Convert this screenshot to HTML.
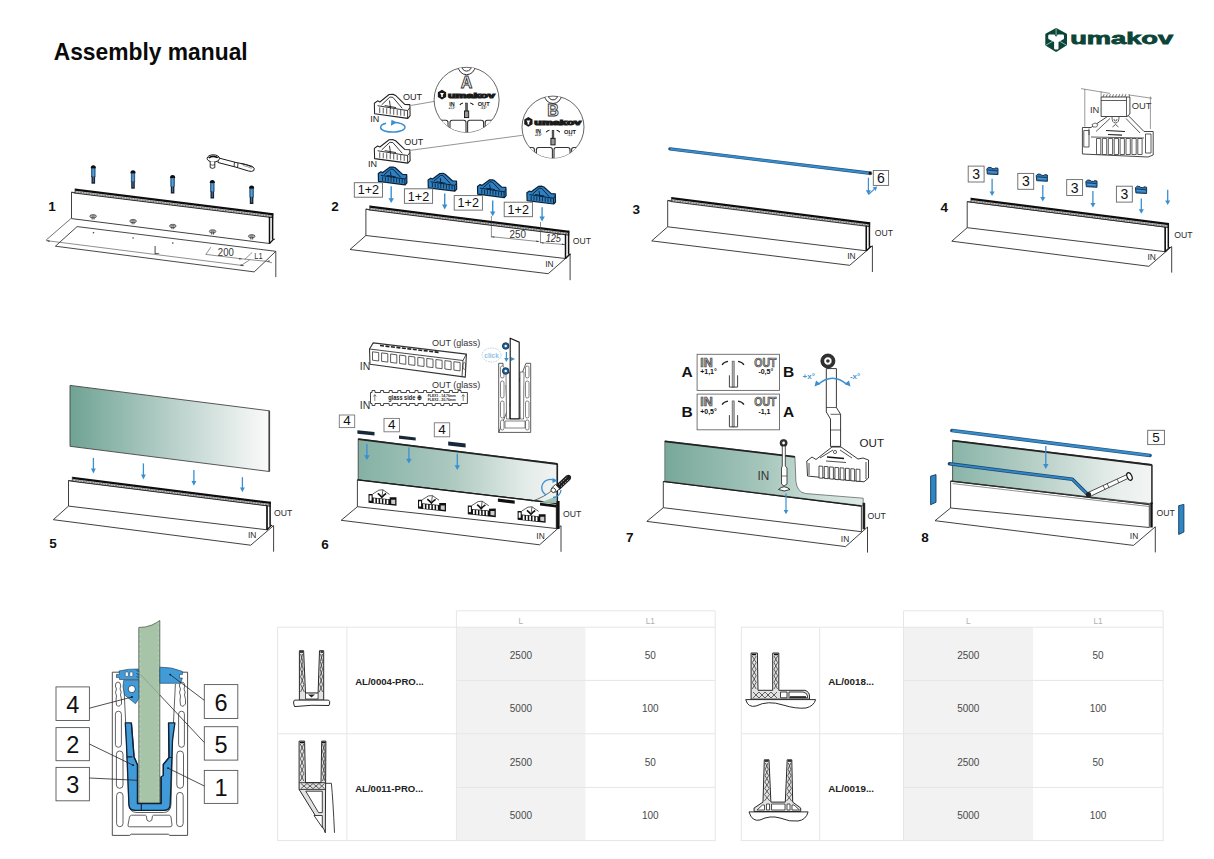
<!DOCTYPE html>
<html><head><meta charset="utf-8"><title>Assembly manual</title>
<style>
html,body{margin:0;padding:0;background:#fff;}
body{width:1214px;height:859px;overflow:hidden;position:relative;font-family:"Liberation Sans",sans-serif;}
svg{position:absolute;left:0;top:0;}
svg text{font-family:"Liberation Sans",sans-serif;}
</style></head><body>
<svg width="1214" height="859" viewBox="0 0 1214 859">
<defs>
<linearGradient id="glass" x1="0" y1="0" x2="1" y2="0">
<stop offset="0" stop-color="#6fa394"/><stop offset="0.5" stop-color="#b6cfc8"/><stop offset="0.9" stop-color="#eef2f1"/><stop offset="1" stop-color="#fafafa"/>
</linearGradient>
</defs>

<text x="53.7" y="60" font-size="23.2" font-weight="bold" fill="#0a0a0a" textLength="194" lengthAdjust="spacingAndGlyphs">Assembly manual</text>
<path d="M1056.1,28.1 Q1056.6,28.1 1057.1,28.4 L1066.4,33.4 Q1067,33.8 1067,34.4 L1067,44.6 Q1067,45.2 1066.4,45.6 L1057.1,51.4 Q1056.1,51.9 1055.1,51.4 L1045.9,45.8 Q1045.3,45.4 1045.3,44.8 L1045.3,34.4 Q1045.3,33.8 1045.9,33.4 L1055.1,28.4 Q1055.6,28.1 1056.1,28.1 Z" fill="#0c4538"/>
<path d="M1048.2,36 Q1048.2,34.6 1049.6,34.6 L1054.6,34.6 L1055.3,36.3 L1056.9,36.3 L1057.6,34.6 L1062.6,34.6 Q1064,34.6 1064,36 L1064,38 Q1064,39 1063,39.5 L1058.5,42 L1058.5,48.3 Q1058.5,49.5 1057.3,49.5 L1055.3,49.5 Q1054.1,49.5 1054.1,48.3 L1054.1,42 L1049.3,39.5 Q1048.2,39 1048.2,38 Z" fill="#fff"/>
<path d="M1056.1,28.6 L1056.1,35.6 M1045.8,45.2 L1052.6,41.3 M1066.5,45.2 L1059.8,41.3" stroke="#86cdb7" stroke-width="0.9"/>

<text x="1070.2" y="44.4" font-size="17" font-weight="bold" fill="#0c4538" textLength="103" lengthAdjust="spacingAndGlyphs" style="font-weight:900" stroke="#0c4538" stroke-width="0.8">umakov</text>
<text x="48.3" y="210.9" font-size="13.5" font-weight="bold" fill="#111">1</text>
<text x="331.3" y="211.3" font-size="13.5" font-weight="bold" fill="#111">2</text>
<text x="632.4" y="213.8" font-size="13.5" font-weight="bold" fill="#111">3</text>
<text x="940.5" y="212.4" font-size="13.5" font-weight="bold" fill="#111">4</text>
<text x="49.3" y="547.5" font-size="13.5" font-weight="bold" fill="#111">5</text>
<text x="321.2" y="548.8" font-size="13.5" font-weight="bold" fill="#111">6</text>
<text x="625.9" y="542.2" font-size="13.5" font-weight="bold" fill="#111">7</text>
<text x="921.2" y="541.6" font-size="13.5" font-weight="bold" fill="#111">8</text>
<path d="M71.5,192.2 L269.5,216.8 L269.5,243.5 L71.5,218.6 Z" fill="#fff" stroke="#2b2b2b" stroke-width="0.9"/>
<path d="M75,190.7 L273.3,215.33727272727273 L273.3,217.53727272727275 L75,192.9 Z" fill="#c4c4c4" stroke="none"/>
<line x1="75" y1="191.79999999999998" x2="273.3" y2="216.43727272727273" stroke="#666" stroke-width="0.9" stroke-dasharray="1.5 1.2"/>
<path d="M75,188.6 L273.3,213.23727272727274 L273.3,215.43727272727273 L75,190.79999999999998 Z" fill="#0d0d0d" stroke="none"/>
<line x1="75" y1="193.1" x2="273.3" y2="217.73727272727274" stroke="#222" stroke-width="0.9"/>
<line x1="75" y1="188.6" x2="75" y2="193.4" stroke="#333" stroke-width="0.7"/>
<line x1="71.5" y1="192.2" x2="75" y2="193.2" stroke="#2b2b2b" stroke-width="0.8"/>
<line x1="272.6" y1="213.23727272727274" x2="272.6" y2="239.5" stroke="#111" stroke-width="1.5"/>
<line x1="269.5" y1="216.8" x2="269.5" y2="243.5" stroke="#111" stroke-width="1.5"/>
<path d="M269.5,243.5 L273.3,239.5 L274.8,239.0" fill="none" stroke="#111" stroke-width="1.2"/>
<path d="M365.9,209.1 L565.5,234.3 L565.5,258.5 L365.9,235.5 Z" fill="#fff" stroke="#2b2b2b" stroke-width="0.9"/>
<path d="M365.9,235.5 L350,249.5 L548.2,273.7 L570.1,254.5" fill="none" stroke="#2b2b2b" stroke-width="0.9"/>
<line x1="570.1" y1="254.5" x2="570.1" y2="280.2" stroke="#2b2b2b" stroke-width="0.9"/>
<path d="M369.7,207.6 L569.3,232.8 L569.3,235.00000000000003 L369.7,209.8 Z" fill="#c4c4c4" stroke="none"/>
<line x1="369.7" y1="208.7" x2="569.3" y2="233.9" stroke="#666" stroke-width="0.9" stroke-dasharray="1.5 1.2"/>
<path d="M369.7,205.5 L569.3,230.70000000000002 L569.3,232.9 L369.7,207.7 Z" fill="#0d0d0d" stroke="none"/>
<line x1="369.7" y1="210.0" x2="569.3" y2="235.20000000000002" stroke="#222" stroke-width="0.9"/>
<line x1="369.7" y1="205.5" x2="369.7" y2="210.3" stroke="#333" stroke-width="0.7"/>
<line x1="365.9" y1="209.1" x2="369.7" y2="210.1" stroke="#2b2b2b" stroke-width="0.8"/>
<line x1="568.5999999999999" y1="230.70000000000002" x2="568.5999999999999" y2="254.5" stroke="#111" stroke-width="1.5"/>
<line x1="565.5" y1="234.3" x2="565.5" y2="258.5" stroke="#111" stroke-width="1.5"/>
<path d="M565.5,258.5 L569.3,254.5 L570.8,254.0" fill="none" stroke="#111" stroke-width="1.2"/>
<path d="M667.7,200.4 L866.3,225.5 L866.3,250.8 L667.7,226.8 Z" fill="#fff" stroke="#2b2b2b" stroke-width="0.9"/>
<path d="M667.7,226.8 L651.7,240.9 L849.7,265.3 L872.4,245.8" fill="none" stroke="#2b2b2b" stroke-width="0.9"/>
<line x1="872.4" y1="245.8" x2="872.4" y2="272" stroke="#2b2b2b" stroke-width="0.9"/>
<path d="M671.4,199.2 L870.0999999999999,224.312638469285 L870.0999999999999,226.512638469285 L671.4,201.4 Z" fill="#c4c4c4" stroke="none"/>
<line x1="671.4" y1="200.29999999999998" x2="870.0999999999999" y2="225.41263846928499" stroke="#666" stroke-width="0.9" stroke-dasharray="1.5 1.2"/>
<path d="M671.4,197.1 L870.0999999999999,222.212638469285 L870.0999999999999,224.41263846928499 L671.4,199.29999999999998 Z" fill="#0d0d0d" stroke="none"/>
<line x1="671.4" y1="201.6" x2="870.0999999999999" y2="226.712638469285" stroke="#222" stroke-width="0.9"/>
<line x1="671.4" y1="197.1" x2="671.4" y2="201.9" stroke="#333" stroke-width="0.7"/>
<line x1="667.7" y1="200.4" x2="671.4" y2="201.7" stroke="#2b2b2b" stroke-width="0.8"/>
<line x1="869.3999999999999" y1="222.212638469285" x2="869.3999999999999" y2="246.8" stroke="#111" stroke-width="1.5"/>
<line x1="866.3" y1="225.5" x2="866.3" y2="250.8" stroke="#111" stroke-width="1.5"/>
<path d="M866.3,250.8 L870.0999999999999,246.8 L871.5999999999999,246.3" fill="none" stroke="#111" stroke-width="1.2"/>
<path d="M967.2,201.6 L1165.2,227 L1165.2,251.7 L967.2,227.7 Z" fill="#fff" stroke="#2b2b2b" stroke-width="0.9"/>
<path d="M967.2,227.7 L951.8,241.2 L1148.9,266.3 L1171.7,246.6" fill="none" stroke="#2b2b2b" stroke-width="0.9"/>
<line x1="1171.7" y1="246.6" x2="1171.7" y2="272.6" stroke="#2b2b2b" stroke-width="0.9"/>
<path d="M970.9,199.79999999999998 L1169.0,225.21282828282827 L1169.0,227.4128282828283 L970.9,202.0 Z" fill="#c4c4c4" stroke="none"/>
<line x1="970.9" y1="200.89999999999998" x2="1169.0" y2="226.31282828282826" stroke="#666" stroke-width="0.9" stroke-dasharray="1.5 1.2"/>
<path d="M970.9,197.7 L1169.0,223.11282828282827 L1169.0,225.31282828282826 L970.9,199.89999999999998 Z" fill="#0d0d0d" stroke="none"/>
<line x1="970.9" y1="202.2" x2="1169.0" y2="227.61282828282827" stroke="#222" stroke-width="0.9"/>
<line x1="970.9" y1="197.7" x2="970.9" y2="202.5" stroke="#333" stroke-width="0.7"/>
<line x1="967.2" y1="201.6" x2="970.9" y2="202.29999999999998" stroke="#2b2b2b" stroke-width="0.8"/>
<line x1="1168.3" y1="223.11282828282827" x2="1168.3" y2="247.7" stroke="#111" stroke-width="1.5"/>
<line x1="1165.2" y1="227" x2="1165.2" y2="251.7" stroke="#111" stroke-width="1.5"/>
<path d="M1165.2,251.7 L1169.0,247.7 L1170.5,247.2" fill="none" stroke="#111" stroke-width="1.2"/>
<path d="M68.5,480.5 L267,505.5 L267,529.8 L68.5,506.1 Z" fill="#fff" stroke="#2b2b2b" stroke-width="0.9"/>
<path d="M68.5,506.1 L53.3,519.7 L250.7,545.2 L273.6,525.6" fill="none" stroke="#2b2b2b" stroke-width="0.9"/>
<line x1="273.6" y1="525.6" x2="273.6" y2="551.7" stroke="#2b2b2b" stroke-width="0.9"/>
<path d="M72.3,478.90000000000003 L270.8,503.90000000000003 L270.8,506.1 L72.3,481.1 Z" fill="#c4c4c4" stroke="none"/>
<line x1="72.3" y1="480.0" x2="270.8" y2="505.0" stroke="#666" stroke-width="0.9" stroke-dasharray="1.5 1.2"/>
<path d="M72.3,476.8 L270.8,501.8 L270.8,504.0 L72.3,479.0 Z" fill="#0d0d0d" stroke="none"/>
<line x1="72.3" y1="481.3" x2="270.8" y2="506.3" stroke="#222" stroke-width="0.9"/>
<line x1="72.3" y1="476.8" x2="72.3" y2="481.6" stroke="#333" stroke-width="0.7"/>
<line x1="68.5" y1="480.5" x2="72.3" y2="481.40000000000003" stroke="#2b2b2b" stroke-width="0.8"/>
<line x1="270.1" y1="501.8" x2="270.1" y2="525.8" stroke="#111" stroke-width="1.5"/>
<line x1="267" y1="505.5" x2="267" y2="529.8" stroke="#111" stroke-width="1.5"/>
<path d="M267,529.8 L270.8,525.8 L272.3,525.3" fill="none" stroke="#111" stroke-width="1.2"/>
<path d="M70,385.4 L269.3,410.8 L269.3,471.5 L70,446.3 Z" fill="url(#glass)" stroke="#444" stroke-width="0.9"/>
<line x1="269.3" y1="410.8" x2="269.3" y2="471.5" stroke="#444" stroke-width="1.6"/>
<line x1="93.4" y1="457.9" x2="93.4" y2="470.9" stroke="#3a8fd0" stroke-width="1.3"/><path d="M91.0,468.59999999999997 L93.4,473.4 L95.80000000000001,468.59999999999997 Z" fill="#3a8fd0"/>
<line x1="143.4" y1="463.4" x2="143.4" y2="476.9" stroke="#3a8fd0" stroke-width="1.3"/><path d="M141.0,474.59999999999997 L143.4,479.4 L145.8,474.59999999999997 Z" fill="#3a8fd0"/>
<line x1="193.9" y1="470" x2="193.9" y2="483.2" stroke="#3a8fd0" stroke-width="1.3"/><path d="M191.5,480.9 L193.9,485.7 L196.3,480.9 Z" fill="#3a8fd0"/>
<line x1="242.4" y1="477.2" x2="242.4" y2="489.8" stroke="#3a8fd0" stroke-width="1.3"/><path d="M240.0,487.5 L242.4,492.3 L244.8,487.5 Z" fill="#3a8fd0"/>
<linearGradient id="g6" gradientUnits="userSpaceOnUse" x1="358" y1="0" x2="557" y2="0"><stop offset="0" stop-color="#84b1a4"/><stop offset="0.45" stop-color="#aac7be"/><stop offset="0.85" stop-color="#e4ece9"/><stop offset="1" stop-color="#f0f3f2"/></linearGradient>
<path d="M358.2,438.9 L557.3,463.7 L557.3,503.3 L358.2,479.8 Z" fill="url(#g6)" stroke="#333" stroke-width="0.8"/>
<line x1="358.2" y1="439.2" x2="557.3" y2="464" stroke="#222" stroke-width="1.8"/>
<line x1="557.3" y1="463.7" x2="557.3" y2="503.3" stroke="#222" stroke-width="1.6"/>
<path d="M357.4,479.8 L556.3,503.3 L556.3,528.5 L357.4,506.7 Z" fill="#fff" stroke="#2b2b2b" stroke-width="0.9"/>
<path d="M357.4,506.7 L341.2,520.3 L539.6,544.8 L561,525.7" fill="none" stroke="#2b2b2b" stroke-width="0.9"/>
<line x1="561" y1="525.7" x2="561" y2="551.8" stroke="#2b2b2b" stroke-width="0.9"/>
<line x1="357.4" y1="479.8" x2="556.3" y2="503.3" stroke="#1a1a1a" stroke-width="1.3"/>
<rect x="556.3" y="501" width="3.3" height="28" fill="#111"/>
<linearGradient id="g7" gradientUnits="userSpaceOnUse" x1="665" y1="0" x2="863" y2="0"><stop offset="0" stop-color="#78a89a"/><stop offset="0.5" stop-color="#a6c6bc"/><stop offset="0.75" stop-color="#c7dcd5"/><stop offset="1" stop-color="#dde9e5"/></linearGradient>
<path d="M664.8,441 L794.9,456.5 L795.9,481.2 Q797,492 805.4,493.5 L863.2,498.2 L863.2,505.8 L664.8,481.2 Z" fill="url(#g7)" stroke="#555" stroke-width="0.7"/>
<line x1="664.8" y1="441.3" x2="794.9" y2="456.8" stroke="#222" stroke-width="1.7"/>
<path d="M663.3,481.5 L861.4,506.1 L861.4,531.7 L663.3,507.7 Z" fill="#fff" stroke="#2b2b2b" stroke-width="0.9"/>
<path d="M663.3,507.7 L646.8,521.4 L845.6,546.6 L867.5,527" fill="none" stroke="#2b2b2b" stroke-width="0.9"/>
<line x1="867.5" y1="527" x2="867.5" y2="552.6" stroke="#2b2b2b" stroke-width="0.9"/>
<line x1="663.3" y1="481.5" x2="861.4" y2="506.1" stroke="#1a1a1a" stroke-width="1.2"/>
<rect x="862.6" y="502.8" width="2.6" height="26.5" fill="#222"/>
<linearGradient id="g8" gradientUnits="userSpaceOnUse" x1="952" y1="0" x2="1152" y2="0"><stop offset="0" stop-color="#89b4a7"/><stop offset="0.5" stop-color="#c0d5ce"/><stop offset="0.85" stop-color="#eaf0ee"/><stop offset="1" stop-color="#f2f4f3"/></linearGradient>
<path d="M952.6,440.4 L1151.9,464.7 L1151.9,504 L952.6,481.1 Z" fill="url(#g8)" stroke="#333" stroke-width="0.8"/>
<line x1="952.6" y1="440.7" x2="1151.9" y2="465" stroke="#222" stroke-width="1.8"/>
<line x1="1151.9" y1="464.7" x2="1151.9" y2="504" stroke="#333" stroke-width="1.4"/>
<path d="M950.6,481.1 L1149.3,504.5 L1149.3,527.5 L950.6,508 Z" fill="#fff" stroke="#2b2b2b" stroke-width="0.9"/>
<path d="M950.6,508 L935,520.7 L1133.5,545.4 L1155.3,526.8" fill="none" stroke="#2b2b2b" stroke-width="0.9"/>
<line x1="1155.3" y1="526.8" x2="1155.3" y2="552.4" stroke="#2b2b2b" stroke-width="0.9"/>
<line x1="950.6" y1="481.1" x2="1149.3" y2="504.5" stroke="#2a2a2a" stroke-width="1.1"/>
<line x1="952.6" y1="483.6" x2="1149.9" y2="506.6" stroke="#666" stroke-width="0.7"/>
<rect x="1150.3" y="502.5" width="2.4" height="25" fill="#111"/>
<text x="572.8" y="244.4" font-size="9.5" fill="#2a2a2a" textLength="18.3" lengthAdjust="spacingAndGlyphs">OUT</text>
<text x="545.2" y="267" font-size="9.5" fill="#2a2a2a" textLength="8.4" lengthAdjust="spacingAndGlyphs">IN</text>
<text x="874.8" y="236.1" font-size="9.5" fill="#2a2a2a" textLength="18.3" lengthAdjust="spacingAndGlyphs">OUT</text>
<text x="847.2" y="258.7" font-size="9.5" fill="#2a2a2a" textLength="8.4" lengthAdjust="spacingAndGlyphs">IN</text>
<text x="1174.3" y="237.5" font-size="9.5" fill="#2a2a2a" textLength="18.3" lengthAdjust="spacingAndGlyphs">OUT</text>
<text x="1147.4" y="259.5" font-size="9.5" fill="#2a2a2a" textLength="8.4" lengthAdjust="spacingAndGlyphs">IN</text>
<text x="274" y="515.7" font-size="9.5" fill="#2a2a2a" textLength="18.3" lengthAdjust="spacingAndGlyphs">OUT</text>
<text x="248" y="538.4" font-size="9.5" fill="#2a2a2a" textLength="8.4" lengthAdjust="spacingAndGlyphs">IN</text>
<text x="562.9" y="517" font-size="9.5" fill="#2a2a2a" textLength="18.3" lengthAdjust="spacingAndGlyphs">OUT</text>
<text x="536.3" y="538.5" font-size="9.5" fill="#2a2a2a" textLength="8.4" lengthAdjust="spacingAndGlyphs">IN</text>
<text x="867.6" y="518.7" font-size="9.5" fill="#2a2a2a" textLength="18.3" lengthAdjust="spacingAndGlyphs">OUT</text>
<text x="840.8" y="541.5" font-size="9.5" fill="#2a2a2a" textLength="8.4" lengthAdjust="spacingAndGlyphs">IN</text>
<text x="1156.5" y="516.3" font-size="9.5" fill="#2a2a2a" textLength="18.3" lengthAdjust="spacingAndGlyphs">OUT</text>
<text x="1129.8" y="539" font-size="9.5" fill="#2a2a2a" textLength="8.4" lengthAdjust="spacingAndGlyphs">IN</text>
<rect x="456.4" y="627.2" width="129.0" height="213.39999999999998" fill="#f2f2f2"/>
<path d="M456.4,627.2 L456.4,610.8 L715.2,610.8 L715.2,627.2" fill="none" stroke="#e6e6e6" stroke-width="1"/>
<rect x="277.6" y="627.2" width="437.6" height="213.39999999999998" fill="none" stroke="#e6e6e6" stroke-width="1"/>
<line x1="456.4" y1="680.4" x2="715.2" y2="680.4" stroke="#e6e6e6" stroke-width="1"/>
<line x1="456.4" y1="787.4" x2="715.2" y2="787.4" stroke="#e6e6e6" stroke-width="1"/>
<line x1="277.6" y1="733.8" x2="715.2" y2="733.8" stroke="#e6e6e6" stroke-width="1"/>
<line x1="346.9" y1="627.2" x2="346.9" y2="840.6" stroke="#e6e6e6" stroke-width="1"/>
<line x1="456.4" y1="627.2" x2="456.4" y2="840.6" stroke="#e6e6e6" stroke-width="1"/>
<text x="520.9" y="623.7" font-size="8.3" fill="#b0b0b0" text-anchor="middle">L</text>
<text x="650.3" y="623.7" font-size="8.3" fill="#b0b0b0" text-anchor="middle">L1</text>
<text x="520.9" y="659.2" font-size="10" fill="#4a4a4a" text-anchor="middle">2500</text>
<text x="650.3" y="659.2" font-size="10" fill="#4a4a4a" text-anchor="middle">50</text>
<text x="520.9" y="712.4" font-size="10" fill="#4a4a4a" text-anchor="middle">5000</text>
<text x="650.3" y="712.4" font-size="10" fill="#4a4a4a" text-anchor="middle">100</text>
<text x="520.9" y="765.8" font-size="10" fill="#4a4a4a" text-anchor="middle">2500</text>
<text x="650.3" y="765.8" font-size="10" fill="#4a4a4a" text-anchor="middle">50</text>
<text x="520.9" y="818.8" font-size="10" fill="#4a4a4a" text-anchor="middle">5000</text>
<text x="650.3" y="818.8" font-size="10" fill="#4a4a4a" text-anchor="middle">100</text>
<rect x="903.5" y="627.2" width="129.5999999999999" height="213.39999999999998" fill="#f2f2f2"/>
<path d="M903.5,627.2 L903.5,610.8 L1163.1,610.8 L1163.1,627.2" fill="none" stroke="#e6e6e6" stroke-width="1"/>
<rect x="741.3" y="627.2" width="421.79999999999995" height="213.39999999999998" fill="none" stroke="#e6e6e6" stroke-width="1"/>
<line x1="903.5" y1="680.4" x2="1163.1" y2="680.4" stroke="#e6e6e6" stroke-width="1"/>
<line x1="903.5" y1="787.4" x2="1163.1" y2="787.4" stroke="#e6e6e6" stroke-width="1"/>
<line x1="741.3" y1="733.8" x2="1163.1" y2="733.8" stroke="#e6e6e6" stroke-width="1"/>
<line x1="819.7" y1="627.2" x2="819.7" y2="840.6" stroke="#e6e6e6" stroke-width="1"/>
<line x1="903.5" y1="627.2" x2="903.5" y2="840.6" stroke="#e6e6e6" stroke-width="1"/>
<text x="968.3" y="623.7" font-size="8.3" fill="#b0b0b0" text-anchor="middle">L</text>
<text x="1098.1" y="623.7" font-size="8.3" fill="#b0b0b0" text-anchor="middle">L1</text>
<text x="968.3" y="659.2" font-size="10" fill="#4a4a4a" text-anchor="middle">2500</text>
<text x="1098.1" y="659.2" font-size="10" fill="#4a4a4a" text-anchor="middle">50</text>
<text x="968.3" y="712.4" font-size="10" fill="#4a4a4a" text-anchor="middle">5000</text>
<text x="1098.1" y="712.4" font-size="10" fill="#4a4a4a" text-anchor="middle">100</text>
<text x="968.3" y="765.8" font-size="10" fill="#4a4a4a" text-anchor="middle">2500</text>
<text x="1098.1" y="765.8" font-size="10" fill="#4a4a4a" text-anchor="middle">50</text>
<text x="968.3" y="818.8" font-size="10" fill="#4a4a4a" text-anchor="middle">5000</text>
<text x="1098.1" y="818.8" font-size="10" fill="#4a4a4a" text-anchor="middle">100</text>
<text x="355.2" y="685" font-size="8.8" font-weight="bold" fill="#222" textLength="68.6" lengthAdjust="spacingAndGlyphs">AL/0004-PRO...</text>
<text x="355.2" y="791.8" font-size="8.8" font-weight="bold" fill="#222" textLength="68.1" lengthAdjust="spacingAndGlyphs">AL/0011-PRO...</text>
<text x="828.2" y="685" font-size="8.8" font-weight="bold" fill="#222" textLength="45.9" lengthAdjust="spacingAndGlyphs">AL/0018...</text>
<text x="828.2" y="791.8" font-size="8.8" font-weight="bold" fill="#222" textLength="45.9" lengthAdjust="spacingAndGlyphs">AL/0019...</text>
<path d="M112.3,672.2 L120,672.2 L120,675 L112.3,675 Z" fill="none"/>
<path d="M112.3,672.2 L112.3,835.4 L129.7,835.4 L131.2,834.2 L168.3,834.2 L169.8,835.4 L187.6,835.4 L187.6,672.2 L182,672.2" fill="#fff" stroke="#3a3a3a" stroke-width="0.9"/>
<line x1="112.3" y1="672.2" x2="120" y2="672.2" stroke="#3a3a3a" stroke-width="0.9"/>
<path d="M123.8,684 L126.5,740 L128.9,804.6 Q129.5,812.5 137,812.5 L163.5,812.5 Q170.6,812.5 171,804.6 L172.6,740 L175.4,684" fill="none" stroke="#3a3a3a" stroke-width="0.8"/>
<rect x="115.4" y="711.2" width="6.0" height="36.09999999999991" rx="3.0" ry="3.0" fill="#fff" stroke="#3a3a3a" stroke-width="0.8"/>
<rect x="116.4" y="751" width="6.599999999999994" height="37.299999999999955" rx="3.299999999999997" ry="3.299999999999997" fill="#fff" stroke="#3a3a3a" stroke-width="0.8"/>
<rect x="116.6" y="792.4" width="6.400000000000006" height="34.30000000000007" rx="3.200000000000003" ry="3.200000000000003" fill="#fff" stroke="#3a3a3a" stroke-width="0.8"/>
<rect x="178.6" y="711.2" width="5.800000000000011" height="36.09999999999991" rx="2.9000000000000057" ry="2.9000000000000057" fill="#fff" stroke="#3a3a3a" stroke-width="0.8"/>
<rect x="176.8" y="751" width="6.699999999999989" height="37.299999999999955" rx="3.3499999999999943" ry="3.3499999999999943" fill="#fff" stroke="#3a3a3a" stroke-width="0.8"/>
<rect x="176.6" y="792.4" width="6.599999999999994" height="34.30000000000007" rx="3.299999999999997" ry="3.299999999999997" fill="#fff" stroke="#3a3a3a" stroke-width="0.8"/>
<path d="M116,683 Q118,681 120,683 Q121.5,686 120,689 Q122,692 120.5,695 Q122,699 121.5,704 Q118.5,708 116.5,705 Q115.5,700 116.5,696 Q114.5,692 116.5,689 Q114.5,686 116,683 Z" fill="#fff" stroke="#3a3a3a" stroke-width="0.8"/>
<path d="M180,683 Q182,681 184,683 Q185.5,686 184,689 Q186,692 184.5,695 Q186,699 185.5,704 Q182.5,708 180.5,705 Q179.5,700 180.5,696 Q178.5,692 180.5,689 Q178.5,686 180,683 Z" fill="#fff" stroke="#3a3a3a" stroke-width="0.8"/>
<path d="M131.5,815.2 L145.5,815.2 Q146.5,815.5 146.5,817 Q146,821 149.4,821.5 Q152.8,821 152.3,817 Q152.3,815.5 153.3,815.2 L169.3,815.2 Q170.5,815.5 171,817 L172,825 Q172,826.8 170,826.8 L129.5,826.8 Q127.6,826.8 128,825 L129.5,817 Q130,815.5 131.5,815.2 Z" fill="#fff" stroke="#3a3a3a" stroke-width="0.8"/>
<path d="M125.3,722.9 L131.3,722.9 L134,756.9 L137.6,765 L137.6,802.9 L160.9,802.9 L160.9,777 L163.2,775.5 L163.2,764.5 L169,757.5 L168.5,722.9 L174.9,722.9 L172.5,740 L170.2,804.6 Q169.8,810.4 163.8,810.4 L135.3,810.4 Q129.2,810.4 128.9,804.6 L126.5,745 Z" fill="#419bd8" stroke="#0f2236" stroke-width="1.3" stroke-linejoin="round"/>
<path d="M132.3,756.9 L126.6,756.9 M169,757.5 L172.5,757.5 M141.3,802.9 L141.3,810.4" fill="none" stroke="#0f2236" stroke-width="1.1"/>
<path d="M138.8,627.5 Q146,627.5 152,625 Q157,622.5 159.8,620.5 L159.8,802.9 L138.8,802.9 Z" fill="#a7c4a9" stroke="#4a5a4c" stroke-width="0.8"/>
<line x1="140.3" y1="628" x2="140.3" y2="802" stroke="#c9dccb" stroke-width="0.6" stroke-dasharray="2 3"/>
<line x1="158.3" y1="622" x2="158.3" y2="802" stroke="#c9dccb" stroke-width="0.6" stroke-dasharray="2 3"/>
<path d="M137.4,765 L137.4,803.6 L161.2,803.6 L161.2,777" fill="none" stroke="#0f2236" stroke-width="1.2"/>
<path d="M131.5,722.9 L134.2,756.9 L137.6,765 M168.6,722.9 L169,757.5 L163.4,764.5 L163.4,775.5" fill="none" stroke="#0f2236" stroke-width="1.1"/>
<path d="M159.8,667.2 Q172,666.8 182.4,671.4 L182.4,674.6 L179.5,674.6 L179.5,678 L182.4,678 L180.5,683.3 L159.8,683.3 Z" fill="#419bd8" stroke="#1c3550" stroke-width="0.6"/>
<path d="M119,671 Q128,668.6 138.8,669 L138.8,679.5 L119.5,679.5 L119.5,677.6 L116.5,677.6 L116.5,674.4 L119.5,674.4 Z" fill="#419bd8" stroke="#1c3550" stroke-width="0.6"/>
<rect x="125.3" y="672" width="3" height="4.5" rx="0.8" fill="#fff" stroke="#1c3550" stroke-width="0.5"/>
<rect x="129.8" y="672" width="3" height="4.5" rx="0.8" fill="#fff" stroke="#1c3550" stroke-width="0.5"/>
<path d="M136.5,670.5 L138.5,671.5 M136.5,673.5 L138.5,674.5 M136.5,676.5 L138.5,677.5" stroke="#1c3550" stroke-width="0.8"/>
<path d="M123.6,680.4 L138.8,680.4 L138.8,698.4 L135.5,703.7 L124.6,695 L123,686.8 Z" fill="#419bd8" stroke="#1c3550" stroke-width="0.6"/>
<circle cx="131.8" cy="689.1" r="3.6" fill="#fff" stroke="#1c3550" stroke-width="0.8"/>
<rect x="56" y="686.9" width="33.400000000000006" height="33.60000000000002" fill="#fff" stroke="#555" stroke-width="0.9"/>
<text x="72.7" y="712.9" font-size="23.5" fill="#111" text-anchor="middle">4</text>
<rect x="56" y="727.6" width="33.400000000000006" height="33.10000000000002" fill="#fff" stroke="#555" stroke-width="0.9"/>
<text x="72.7" y="753.1" font-size="23.5" fill="#111" text-anchor="middle">2</text>
<rect x="56" y="767.4" width="33.400000000000006" height="33.39999999999998" fill="#fff" stroke="#555" stroke-width="0.9"/>
<text x="72.7" y="793.1999999999999" font-size="23.5" fill="#111" text-anchor="middle">3</text>
<rect x="204.3" y="684.6" width="33.5" height="33.89999999999998" fill="#fff" stroke="#555" stroke-width="0.9"/>
<text x="221.05" y="710.9" font-size="23.5" fill="#111" text-anchor="middle">6</text>
<rect x="204.3" y="726.7" width="33.5" height="33.39999999999998" fill="#fff" stroke="#555" stroke-width="0.9"/>
<text x="221.05" y="752.5" font-size="23.5" fill="#111" text-anchor="middle">5</text>
<rect x="204.3" y="770.4" width="33.5" height="33.0" fill="#fff" stroke="#555" stroke-width="0.9"/>
<text x="221.05" y="795.8" font-size="23.5" fill="#111" text-anchor="middle">1</text>
<path d="M89.4,708.2 L132,697" stroke="#222" stroke-width="0.8" fill="none"/>
<path d="M89.4,744 L133.1,765.2" stroke="#222" stroke-width="0.8" fill="none"/>
<path d="M89.4,778 L137.4,780.3" stroke="#222" stroke-width="0.8" fill="none"/>
<path d="M204.3,700.3 L170.2,674.6" stroke="#222" stroke-width="0.8" fill="none"/>
<path d="M204.3,742.5 L159.7,694.9" stroke="#222" stroke-width="0.8" fill="none"/>
<path d="M159.7,694.9 L137.6,671.6" stroke="#7d8f80" stroke-width="0.6" fill="none"/>
<path d="M204.3,786 L168,768.1" stroke="#222" stroke-width="0.8" fill="none"/>
<circle cx="132" cy="697" r="0.9" fill="#111"/>
<circle cx="133.1" cy="765.2" r="0.9" fill="#111"/>
<circle cx="168" cy="768.1" r="0.9" fill="#111"/>
<circle cx="170.2" cy="674.6" r="0.9" fill="#111"/>
<g transform="translate(374.1,94.1) scale(1.25,1.35)"><path d="M0.2,6.8 L2.8,5 L4.6,5.8 L12,0.3 L15.2,0.2 L17.2,1 L24.5,7.6 L28.6,7.8 L28.8,16 L27,18 L0.4,14.6 Z" fill="#fff" stroke="#222" stroke-width="0.84" stroke-linejoin="round"/><path d="M2.8,8.6 L26.8,12.2 L26.8,17.8 M26.8,12.2 L28.6,10 M6,8 L12.6,2.2 L15,2.4 L22.5,10.5 M12.3,4.8 L13.2,11 M8.5,8.5 L17.5,10" fill="none" stroke="#222" stroke-width="0.7"/><path d="M4.5,9.8 L4.5,14.0 M7.3,10.2 L7.3,14.4 M10.1,10.5 L10.1,14.7 M12.9,10.8 L12.9,15.0 M15.7,11.1 L15.7,15.3 M18.5,11.5 L18.5,15.7 M21.3,11.8 L21.3,16.0 M24.1,12.1 L24.1,16.3" stroke="#333" stroke-width="0.63"/></g>
<g transform="translate(374.1,139.4) scale(1.25,1.32)"><path d="M0.2,6.8 L2.8,5 L4.6,5.8 L12,0.3 L15.2,0.2 L17.2,1 L24.5,7.6 L28.6,7.8 L28.8,16 L27,18 L0.4,14.6 Z" fill="#fff" stroke="#222" stroke-width="0.84" stroke-linejoin="round"/><path d="M2.8,8.6 L26.8,12.2 L26.8,17.8 M26.8,12.2 L28.6,10 M6,8 L12.6,2.2 L15,2.4 L22.5,10.5 M12.3,4.8 L13.2,11 M8.5,8.5 L17.5,10" fill="none" stroke="#222" stroke-width="0.7"/><path d="M4.5,9.8 L4.5,14.0 M7.3,10.2 L7.3,14.4 M10.1,10.5 L10.1,14.7 M12.9,10.8 L12.9,15.0 M15.7,11.1 L15.7,15.3 M18.5,11.5 L18.5,15.7 M21.3,11.8 L21.3,16.0 M24.1,12.1 L24.1,16.3" stroke="#333" stroke-width="0.63"/></g>
<text x="402.9" y="99.9" font-size="9" fill="#222">OUT</text>
<text x="370.2" y="121.5" font-size="9" fill="#222">IN</text>
<text x="404.2" y="145.4" font-size="9" fill="#222">OUT</text>
<text x="368" y="167" font-size="9" fill="#222">IN</text>
<path d="M385.99,123.32000000000001 A12.2,4.8 0 1 0 395.14,122.60000000000001" fill="none" stroke="#3a8fd0" stroke-width="1.5"/><path d="M391.47999999999996,119.72 L396.96999999999997,122.60000000000001 L390.87,125.72 Z" fill="#3a8fd0"/>
<line x1="410.6" y1="105.5" x2="434.5" y2="101.4" stroke="#666" stroke-width="0.7"/>
<line x1="410.6" y1="150.3" x2="522.5" y2="135.3" stroke="#666" stroke-width="0.7"/>
<clipPath id="clipA"><circle cx="466.6" cy="99.8" r="32.5"/></clipPath>
<circle cx="466.6" cy="99.8" r="32.5" fill="#fff" stroke="#555" stroke-width="0.9"/>
<g clip-path="url(#clipA)">
<path d="M458.20000000000005,66.3 A8.4,8.4 0 0 0 475.0,66.3 L471.40000000000003,66.3 A4.8,4.8 0 0 1 461.8,66.3 Z" fill="#fff" stroke="#333" stroke-width="1"/>
<text x="466.6" y="88.2" font-size="16" font-weight="bold" fill="#fff" stroke="#333" stroke-width="0.9" text-anchor="middle">A</text>
<polygon points="446.16,97.00 442.00,99.40 437.84,97.00 437.84,92.20 442.00,89.80 446.16,92.20" fill="#1a1a1a"/>
<path d="M440.0,93.1 L444.0,93.1 L442.8,95.1 L442.8,97.1 L441.2,97.1 L441.2,95.1 Z" fill="#fff"/>
<text x="447.90000000000003" y="97.6" font-size="7.6" font-weight="bold" fill="#fff" stroke="#1a1a1a" stroke-width="1.1" textLength="47" lengthAdjust="spacingAndGlyphs">umakov</text>
<text x="449.20000000000005" y="106.0" font-size="6.2" font-weight="bold" fill="#111" textLength="5.4" lengthAdjust="spacingAndGlyphs">IN</text>
<text x="477.70000000000005" y="106.2" font-size="6.2" font-weight="bold" fill="#111" textLength="12" lengthAdjust="spacingAndGlyphs">OUT</text>
<text x="451.90000000000003" y="109.0" font-size="2.8" font-weight="bold" fill="#111" text-anchor="middle">+1,1°</text>
<text x="483.6" y="109.0" font-size="2.8" font-weight="bold" fill="#111" text-anchor="middle">-0,5°</text>
<rect x="465.70000000000005" y="103.0" width="1.8" height="8.2" fill="#666" stroke="#111" stroke-width="0.5"/>
<rect x="464.5" y="111.0" width="4.2" height="6.6" fill="#999" stroke="#111" stroke-width="0.9"/>
<path d="M459.8,104.8 Q461.1,103.3 463.0,103.0 M470.20000000000005,103.0 Q472.1,103.3 473.40000000000003,104.8" fill="none" stroke="#111" stroke-width="1.1"/>
<rect x="432.0" y="120.19999999999999" width="16" height="16" rx="2.2" fill="#fff" stroke="#333" stroke-width="1.1"/>
<rect x="450.0" y="120.19999999999999" width="16" height="16" rx="2.2" fill="#fff" stroke="#333" stroke-width="1.1"/>
<rect x="467.6" y="120.19999999999999" width="16" height="16" rx="2.2" fill="#fff" stroke="#333" stroke-width="1.1"/>
<rect x="485.20000000000005" y="120.19999999999999" width="16" height="16" rx="2.2" fill="#fff" stroke="#333" stroke-width="1.1"/>
</g>
<clipPath id="clipB"><circle cx="553" cy="127.1" r="31"/></clipPath>
<circle cx="553" cy="127.1" r="31" fill="#fff" stroke="#555" stroke-width="0.9"/>
<g clip-path="url(#clipB)">
<path d="M544.6,95.1 A8.4,8.4 0 0 0 561.4,95.1 L557.8,95.1 A4.8,4.8 0 0 1 548.2,95.1 Z" fill="#fff" stroke="#333" stroke-width="1"/>
<text x="553" y="115.5" font-size="16" font-weight="bold" fill="#fff" stroke="#333" stroke-width="0.9" text-anchor="middle">B</text>
<polygon points="532.56,124.30 528.40,126.70 524.24,124.30 524.24,119.50 528.40,117.10 532.56,119.50" fill="#1a1a1a"/>
<path d="M526.4,120.39999999999999 L530.4,120.39999999999999 L529.1999999999999,122.39999999999999 L529.1999999999999,124.39999999999999 L527.6,124.39999999999999 L527.6,122.39999999999999 Z" fill="#fff"/>
<text x="534.3" y="124.89999999999999" font-size="7.6" font-weight="bold" fill="#fff" stroke="#1a1a1a" stroke-width="1.1" textLength="47" lengthAdjust="spacingAndGlyphs">umakov</text>
<text x="535.6" y="133.29999999999998" font-size="6.2" font-weight="bold" fill="#111" textLength="5.4" lengthAdjust="spacingAndGlyphs">IN</text>
<text x="564.1" y="133.5" font-size="6.2" font-weight="bold" fill="#111" textLength="12" lengthAdjust="spacingAndGlyphs">OUT</text>
<text x="538.3" y="136.29999999999998" font-size="2.8" font-weight="bold" fill="#111" text-anchor="middle">+0,5°</text>
<text x="570" y="136.29999999999998" font-size="2.8" font-weight="bold" fill="#111" text-anchor="middle">-1,1</text>
<rect x="552.1" y="130.29999999999998" width="1.8" height="8.2" fill="#666" stroke="#111" stroke-width="0.5"/>
<rect x="550.9" y="138.29999999999998" width="4.2" height="6.6" fill="#999" stroke="#111" stroke-width="0.9"/>
<path d="M546.2,132.1 Q547.5,130.6 549.4,130.29999999999998 M556.6,130.29999999999998 Q558.5,130.6 559.8,132.1" fill="none" stroke="#111" stroke-width="1.1"/>
<rect x="518.4" y="147.5" width="16" height="16" rx="2.2" fill="#fff" stroke="#333" stroke-width="1.1"/>
<rect x="536.4" y="147.5" width="16" height="16" rx="2.2" fill="#fff" stroke="#333" stroke-width="1.1"/>
<rect x="554" y="147.5" width="16" height="16" rx="2.2" fill="#fff" stroke="#333" stroke-width="1.1"/>
<rect x="571.6" y="147.5" width="16" height="16" rx="2.2" fill="#fff" stroke="#333" stroke-width="1.1"/>
</g>
<g transform="translate(378.1,166.8) scale(1.0,1.0)"><path d="M0.2,6.8 L2.8,5 L4.6,5.8 L12,0.3 L15.2,0.2 L17.2,1 L24.5,7.6 L28.6,7.8 L28.8,16 L27,18 L0.4,14.6 Z" fill="#2f80c2" stroke="#0a2238" stroke-width="1.2" stroke-linejoin="round"/><path d="M2.8,8.6 L26.8,12.2 L26.8,17.8 M26.8,12.2 L28.6,10 M6,8 L12.6,2.2 L15,2.4 L22.5,10.5 M12.3,4.8 L13.2,11 M8.5,8.5 L17.5,10" fill="none" stroke="#0a2238" stroke-width="1.0"/><path d="M4.5,9.8 L4.5,14.0 M7.3,10.2 L7.3,14.4 M10.1,10.5 L10.1,14.7 M12.9,10.8 L12.9,15.0 M15.7,11.1 L15.7,15.3 M18.5,11.5 L18.5,15.7 M21.3,11.8 L21.3,16.0 M24.1,12.1 L24.1,16.3" stroke="#0a2238" stroke-width="0.9"/></g>
<g transform="translate(427.9,173.2) scale(1.0,1.0)"><path d="M0.2,6.8 L2.8,5 L4.6,5.8 L12,0.3 L15.2,0.2 L17.2,1 L24.5,7.6 L28.6,7.8 L28.8,16 L27,18 L0.4,14.6 Z" fill="#2f80c2" stroke="#0a2238" stroke-width="1.2" stroke-linejoin="round"/><path d="M2.8,8.6 L26.8,12.2 L26.8,17.8 M26.8,12.2 L28.6,10 M6,8 L12.6,2.2 L15,2.4 L22.5,10.5 M12.3,4.8 L13.2,11 M8.5,8.5 L17.5,10" fill="none" stroke="#0a2238" stroke-width="1.0"/><path d="M4.5,9.8 L4.5,14.0 M7.3,10.2 L7.3,14.4 M10.1,10.5 L10.1,14.7 M12.9,10.8 L12.9,15.0 M15.7,11.1 L15.7,15.3 M18.5,11.5 L18.5,15.7 M21.3,11.8 L21.3,16.0 M24.1,12.1 L24.1,16.3" stroke="#0a2238" stroke-width="0.9"/></g>
<g transform="translate(477.3,179.6) scale(1.0,1.0)"><path d="M0.2,6.8 L2.8,5 L4.6,5.8 L12,0.3 L15.2,0.2 L17.2,1 L24.5,7.6 L28.6,7.8 L28.8,16 L27,18 L0.4,14.6 Z" fill="#2f80c2" stroke="#0a2238" stroke-width="1.2" stroke-linejoin="round"/><path d="M2.8,8.6 L26.8,12.2 L26.8,17.8 M26.8,12.2 L28.6,10 M6,8 L12.6,2.2 L15,2.4 L22.5,10.5 M12.3,4.8 L13.2,11 M8.5,8.5 L17.5,10" fill="none" stroke="#0a2238" stroke-width="1.0"/><path d="M4.5,9.8 L4.5,14.0 M7.3,10.2 L7.3,14.4 M10.1,10.5 L10.1,14.7 M12.9,10.8 L12.9,15.0 M15.7,11.1 L15.7,15.3 M18.5,11.5 L18.5,15.7 M21.3,11.8 L21.3,16.0 M24.1,12.1 L24.1,16.3" stroke="#0a2238" stroke-width="0.9"/></g>
<g transform="translate(526.7,186.0) scale(1.0,1.0)"><path d="M0.2,6.8 L2.8,5 L4.6,5.8 L12,0.3 L15.2,0.2 L17.2,1 L24.5,7.6 L28.6,7.8 L28.8,16 L27,18 L0.4,14.6 Z" fill="#2f80c2" stroke="#0a2238" stroke-width="1.2" stroke-linejoin="round"/><path d="M2.8,8.6 L26.8,12.2 L26.8,17.8 M26.8,12.2 L28.6,10 M6,8 L12.6,2.2 L15,2.4 L22.5,10.5 M12.3,4.8 L13.2,11 M8.5,8.5 L17.5,10" fill="none" stroke="#0a2238" stroke-width="1.0"/><path d="M4.5,9.8 L4.5,14.0 M7.3,10.2 L7.3,14.4 M10.1,10.5 L10.1,14.7 M12.9,10.8 L12.9,15.0 M15.7,11.1 L15.7,15.3 M18.5,11.5 L18.5,15.7 M21.3,11.8 L21.3,16.0 M24.1,12.1 L24.1,16.3" stroke="#0a2238" stroke-width="0.9"/></g>
<rect x="354.3" y="182.7" width="28.2" height="14.5" fill="#fff" stroke="#666" stroke-width="0.9"/><text x="368.4" y="194.4" font-size="12.6" fill="#111" text-anchor="middle">1+2</text>
<rect x="404.4" y="188.8" width="28.2" height="14.5" fill="#fff" stroke="#666" stroke-width="0.9"/><text x="418.5" y="200.5" font-size="12.6" fill="#111" text-anchor="middle">1+2</text>
<rect x="454.2" y="195.6" width="28.2" height="14.5" fill="#fff" stroke="#666" stroke-width="0.9"/><text x="468.3" y="207.3" font-size="12.6" fill="#111" text-anchor="middle">1+2</text>
<rect x="504.2" y="202.2" width="28.2" height="14.5" fill="#fff" stroke="#666" stroke-width="0.9"/><text x="518.3" y="213.9" font-size="12.6" fill="#111" text-anchor="middle">1+2</text>
<line x1="391.2" y1="186.3" x2="391.2" y2="199.8" stroke="#3a8fd0" stroke-width="1.4"/><path d="M388.47999999999996,198.2 L391.2,203 L393.92,198.2 Z" fill="#3a8fd0"/>
<line x1="444.7" y1="193.5" x2="444.7" y2="206.20000000000002" stroke="#3a8fd0" stroke-width="1.4"/><path d="M441.97999999999996,204.6 L444.7,209.4 L447.42,204.6 Z" fill="#3a8fd0"/>
<line x1="492.7" y1="200.4" x2="492.7" y2="213.0" stroke="#3a8fd0" stroke-width="1.4"/><path d="M489.97999999999996,211.39999999999998 L492.7,216.2 L495.42,211.39999999999998 Z" fill="#3a8fd0"/>
<line x1="542.1" y1="207.3" x2="542.1" y2="218.20000000000002" stroke="#3a8fd0" stroke-width="1.4"/><path d="M539.38,216.6 L542.1,221.4 L544.82,216.6 Z" fill="#3a8fd0"/>
<path d="M491.4,216 L491.4,237.5 M540.5,222 L540.5,243.2 M491.4,236.7 L539.3,241.6 M540.5,242.6 L565,244.6" stroke="#444" stroke-width="0.6" fill="none"/>
<path d="M491.4,236.7 l3,-0.3 l-0.2,1.3 Z M539.3,241.6 l-3,0.3 l0.2,-1.3 Z M540.5,242.6 l3,-0.1 l-0.1,1.2 Z M565,244.6 l-3,0.1 l0.1,-1.2 Z" fill="#333"/>
<text x="517.8" y="238.2" font-size="10" fill="#333" text-anchor="middle" textLength="16.4" lengthAdjust="spacingAndGlyphs">250</text>
<text x="553.3" y="242.4" font-size="10" fill="#333" text-anchor="middle" textLength="15.3" lengthAdjust="spacingAndGlyphs" font-style="italic">125</text>
<rect x="91.5" y="167.79999999999998" width="3.6" height="9" fill="#3381c2" stroke="#0e2a44" stroke-width="0.6"/><rect x="91.5" y="176.7" width="3.6" height="7" fill="#142638"/><path d="M90.7,168.2 Q90.7,165.2 93.3,165.2 Q95.89999999999999,165.2 95.89999999999999,168.2 Z" fill="#0d0d0d"/><line x1="93.3" y1="169.2" x2="93.3" y2="182.2" stroke="#8fc3ea" stroke-width="0.5"/>
<rect x="131.2" y="172.79999999999998" width="3.6" height="9" fill="#3381c2" stroke="#0e2a44" stroke-width="0.6"/><rect x="131.2" y="181.7" width="3.6" height="7" fill="#142638"/><path d="M130.4,173.2 Q130.4,170.2 133,170.2 Q135.6,170.2 135.6,173.2 Z" fill="#0d0d0d"/><line x1="133" y1="174.2" x2="133" y2="187.2" stroke="#8fc3ea" stroke-width="0.5"/>
<rect x="170.79999999999998" y="177.6" width="3.6" height="9" fill="#3381c2" stroke="#0e2a44" stroke-width="0.6"/><rect x="170.79999999999998" y="186.5" width="3.6" height="7" fill="#142638"/><path d="M170.0,178 Q170.0,175 172.6,175 Q175.2,175 175.2,178 Z" fill="#0d0d0d"/><line x1="172.6" y1="179" x2="172.6" y2="192" stroke="#8fc3ea" stroke-width="0.5"/>
<rect x="210.5" y="182.6" width="3.6" height="9" fill="#3381c2" stroke="#0e2a44" stroke-width="0.6"/><rect x="210.5" y="191.5" width="3.6" height="7" fill="#142638"/><path d="M209.70000000000002,183 Q209.70000000000002,180 212.3,180 Q214.9,180 214.9,183 Z" fill="#0d0d0d"/><line x1="212.3" y1="184" x2="212.3" y2="197" stroke="#8fc3ea" stroke-width="0.5"/>
<rect x="249.79999999999998" y="188.1" width="3.6" height="9" fill="#3381c2" stroke="#0e2a44" stroke-width="0.6"/><rect x="249.79999999999998" y="197.0" width="3.6" height="7" fill="#142638"/><path d="M249.0,188.5 Q249.0,185.5 251.6,185.5 Q254.2,185.5 254.2,188.5 Z" fill="#0d0d0d"/><line x1="251.6" y1="189.5" x2="251.6" y2="202.5" stroke="#8fc3ea" stroke-width="0.5"/>
<path d="M218,157.8 L236,162.5 Q244,163.6 252,166.3 Q255.5,168 253.8,170.6 Q252,172 248.5,171 L236,167.2 L218,162.5 Z" fill="#fff" stroke="#1a1a1a" stroke-width="1"/>
<path d="M234.5,162 L234,167 M238,163 L237.5,168 M241,163.6 Q247,164.5 252.5,167.3" fill="none" stroke="#222" stroke-width="0.9"/>
<path d="M243,165.5 Q248,166.5 251.5,168.5" fill="none" stroke="#888" stroke-width="0.8"/>
<ellipse cx="213.3" cy="158.4" rx="6.2" ry="3.6" fill="#fff" stroke="#1a1a1a" stroke-width="1"/>
<path d="M208,157.6 Q212.5,153.6 218.8,157.2 L217,158.2 Q212.5,156 209.5,158.5 Z" fill="#111"/>
<path d="M210.2,161.2 L210.2,167.6 Q212.4,169.2 214.8,167.6 L214.8,161.6" fill="#fff" stroke="#1a1a1a" stroke-width="0.9"/>
<path d="M210.2,164.6 Q212.5,165.8 214.8,164.6" fill="none" stroke="#222" stroke-width="0.7"/>
<ellipse cx="93.1" cy="216.3" rx="3.3" ry="1.7" fill="#bbb" stroke="#333" stroke-width="0.7"/><path d="M92.19999999999999,217.10000000000002 L92.19999999999999,219.5 M94.0,217.10000000000002 L94.0,219.5" stroke="#333" stroke-width="0.8"/><path d="M91.6,216.0 L94.6,216.0" stroke="#333" stroke-width="0.6"/>
<ellipse cx="133.1" cy="221.1" rx="3.3" ry="1.7" fill="#bbb" stroke="#333" stroke-width="0.7"/><path d="M132.2,221.9 L132.2,224.29999999999998 M134.0,221.9 L134.0,224.29999999999998" stroke="#333" stroke-width="0.8"/><path d="M131.6,220.79999999999998 L134.6,220.79999999999998" stroke="#333" stroke-width="0.6"/>
<ellipse cx="172.8" cy="226" rx="3.3" ry="1.7" fill="#bbb" stroke="#333" stroke-width="0.7"/><path d="M171.9,226.8 L171.9,229.2 M173.70000000000002,226.8 L173.70000000000002,229.2" stroke="#333" stroke-width="0.8"/><path d="M171.3,225.7 L174.3,225.7" stroke="#333" stroke-width="0.6"/>
<ellipse cx="212.6" cy="231.4" rx="3.3" ry="1.7" fill="#bbb" stroke="#333" stroke-width="0.7"/><path d="M211.7,232.20000000000002 L211.7,234.6 M213.5,232.20000000000002 L213.5,234.6" stroke="#333" stroke-width="0.8"/><path d="M211.1,231.1 L214.1,231.1" stroke="#333" stroke-width="0.6"/>
<ellipse cx="251.7" cy="236.3" rx="3.3" ry="1.7" fill="#bbb" stroke="#333" stroke-width="0.7"/><path d="M250.79999999999998,237.10000000000002 L250.79999999999998,239.5 M252.6,237.10000000000002 L252.6,239.5" stroke="#333" stroke-width="0.8"/><path d="M250.2,236.0 L253.2,236.0" stroke="#333" stroke-width="0.6"/>
<path d="M77.1,226.6 L275.8,251.3 L254.2,271.9 L55.4,246.2 Z" fill="none" stroke="#333" stroke-width="0.9"/>
<line x1="275.8" y1="251.3" x2="275.8" y2="277.1" stroke="#333" stroke-width="0.9"/>
<line x1="70.9" y1="218.6" x2="46.2" y2="240" stroke="#333" stroke-width="0.7"/>
<line x1="46.2" y1="240.6" x2="243.9" y2="265.7" stroke="#444" stroke-width="0.6"/>
<path d="M46.2,240.6 l3.5,-0.2 l-0.4,1.6 Z M243.9,265.7 l-3.5,0.1 l0.4,-1.6 Z" fill="#333"/>
<circle cx="93.5" cy="232.8" r="0.8" fill="#444"/>
<circle cx="133.1" cy="238" r="0.8" fill="#444"/>
<circle cx="172.8" cy="243.1" r="0.8" fill="#444"/>
<text x="153.8" y="254" font-size="10" fill="#444">L</text>
<path d="M210.9,247.2 L205.8,254.4 L242.3,258.9 L266.5,261.3 M244.8,259.4 L252.2,252.4 M241.3,265.3 L249.7,259.9 M266.5,261.3 L272,262.8" fill="none" stroke="#444" stroke-width="0.6"/>
<path d="M242.3,258.9 l-3.2,-0.9 l0.1,1.5 Z M266.5,261.3 l3.2,0.4 l-0.3,-1.4 Z" fill="#333"/>
<text x="217.8" y="255.8" font-size="10.2" fill="#333" textLength="16" lengthAdjust="spacingAndGlyphs">200</text>
<text x="254.2" y="259.4" font-size="9.2" fill="#333" textLength="8.4" lengthAdjust="spacingAndGlyphs">L1</text>
<line x1="669.9" y1="148.9" x2="870.5" y2="173.3" stroke="#1f5580" stroke-width="3.4" stroke-linecap="round"/><line x1="670.4" y1="149.0" x2="870.0" y2="173.20000000000002" stroke="#3a8bc9" stroke-width="2.108"/>
<circle cx="870" cy="173.2" r="1.9" fill="#111" stroke="#aaa" stroke-width="0.5"/>
<rect x="873.3" y="170.5" width="15.3" height="14.9" fill="#fff" stroke="#666" stroke-width="0.9"/><text x="881.0" y="182.6" font-size="14" fill="#111" text-anchor="middle">6</text>
<line x1="868.4" y1="177.7" x2="868.4" y2="191.7" stroke="#3a8fd0" stroke-width="1.2"/><path d="M865.85,190.2 L868.4,194.7 L870.9499999999999,190.2 Z" fill="#3a8fd0"/>
<line x1="868.4" y1="194.5" x2="874.09" y2="189.33" stroke="#3a8fd0" stroke-width="1.1"/><path d="M875.69,191.09 L877.2,186.5 L872.49,187.56 Z" fill="#3a8fd0"/>
<rect x="968.2" y="166.1" width="15.9" height="15.9" fill="#fff" stroke="#666" stroke-width="0.9"/><text x="976.2" y="179.0" font-size="14" fill="#111" text-anchor="middle">3</text>
<rect x="1017.8" y="173.4" width="15.9" height="15.9" fill="#fff" stroke="#666" stroke-width="0.9"/><text x="1025.8" y="186.3" font-size="14" fill="#111" text-anchor="middle">3</text>
<rect x="1066.7" y="179.6" width="15.9" height="15.9" fill="#fff" stroke="#666" stroke-width="0.9"/><text x="1074.7" y="192.5" font-size="14" fill="#111" text-anchor="middle">3</text>
<rect x="1116.4" y="186.2" width="15.9" height="15.9" fill="#fff" stroke="#666" stroke-width="0.9"/><text x="1124.4" y="199.1" font-size="14" fill="#111" text-anchor="middle">3</text>
<path d="M986.8,168.8 L988.8,167.3 L991.3,167.60000000000002 L991.8,168.5 L994.8,168.8 L995.3,167.9 L998.0,168.3 L998.0,174.60000000000002 L987.3,174.00000000000003 Z" fill="#2f78b8" stroke="#0b2740" stroke-width="0.9" stroke-linejoin="round"/><path d="M987.8,170.10000000000002 L997.5,170.9" stroke="#0b2740" stroke-width="0.7"/><path d="M988.3,171.60000000000002 L996.8,172.3" stroke="#5aa5e0" stroke-width="0.8"/>
<path d="M1036.2,175.5 L1038.2,174 L1040.7,174.3 L1041.2,175.2 L1044.2,175.5 L1044.7,174.6 L1047.4,175 L1047.4,181.3 L1036.7,180.70000000000002 Z" fill="#2f78b8" stroke="#0b2740" stroke-width="0.9" stroke-linejoin="round"/><path d="M1037.2,176.8 L1046.9,177.6" stroke="#0b2740" stroke-width="0.7"/><path d="M1037.7,178.3 L1046.2,179" stroke="#5aa5e0" stroke-width="0.8"/>
<path d="M1085.8,181.5 L1087.8,180 L1090.3,180.3 L1090.8,181.2 L1093.8,181.5 L1094.3,180.6 L1097.0,181 L1097.0,187.3 L1086.3,186.70000000000002 Z" fill="#2f78b8" stroke="#0b2740" stroke-width="0.9" stroke-linejoin="round"/><path d="M1086.8,182.8 L1096.5,183.6" stroke="#0b2740" stroke-width="0.7"/><path d="M1087.3,184.3 L1095.8,185" stroke="#5aa5e0" stroke-width="0.8"/>
<path d="M1135.4,187.7 L1137.4,186.2 L1139.9,186.5 L1140.4,187.39999999999998 L1143.4,187.7 L1143.9,186.79999999999998 L1146.6000000000001,187.2 L1146.6000000000001,193.5 L1135.9,192.9 Z" fill="#2f78b8" stroke="#0b2740" stroke-width="0.9" stroke-linejoin="round"/><path d="M1136.4,189.0 L1146.1000000000001,189.79999999999998" stroke="#0b2740" stroke-width="0.7"/><path d="M1136.9,190.5 L1145.4,191.2" stroke="#5aa5e0" stroke-width="0.8"/>
<line x1="992.1" y1="178.8" x2="992.1" y2="193" stroke="#3a8fd0" stroke-width="1.3"/><path d="M989.5500000000001,191.5 L992.1,196 L994.65,191.5 Z" fill="#3a8fd0"/>
<line x1="1042.8" y1="185" x2="1042.8" y2="198.6" stroke="#3a8fd0" stroke-width="1.3"/><path d="M1040.25,197.1 L1042.8,201.6 L1045.35,197.1 Z" fill="#3a8fd0"/>
<line x1="1092.9" y1="191" x2="1092.9" y2="204.4" stroke="#3a8fd0" stroke-width="1.3"/><path d="M1090.3500000000001,202.9 L1092.9,207.4 L1095.45,202.9 Z" fill="#3a8fd0"/>
<line x1="1141.3" y1="198.4" x2="1141.3" y2="210.8" stroke="#3a8fd0" stroke-width="1.3"/><path d="M1138.75,209.3 L1141.3,213.8 L1143.85,209.3 Z" fill="#3a8fd0"/>
<line x1="1167.7" y1="189.8" x2="1167.7" y2="202" stroke="#3a8fd0" stroke-width="1.3"/><path d="M1165.15,200.5 L1167.7,205 L1170.25,200.5 Z" fill="#3a8fd0"/>
<path d="M1082.4,127.5 L1091,127.5 L1108.5,115.8 L1128.5,115.8 L1144,131.5 L1153.2,131.5 L1153.2,155 L1148,157 L1082.4,154 Z" fill="#fff" stroke="#333" stroke-width="0.9" stroke-linejoin="round"/>
<path d="M1083.8,130.5 L1089,130.5 L1089,147 L1083.8,147 Z M1145.5,134 L1151,134 L1151,153 L1145.5,153 Z" fill="#fff" stroke="#333" stroke-width="0.8"/>
<path d="M1096.5,138.5 L1100.8,138.5 L1100.8,154.5 L1096.5,154.5 Z M1102.4,138.5 L1106.7,138.5 L1106.7,154.5 L1102.4,154.5 Z M1108.3,138.5 L1112.6,138.5 L1112.6,154.5 L1108.3,154.5 Z M1114.2,138.5 L1118.5,138.5 L1118.5,154.5 L1114.2,154.5 Z M1120.1,138.5 L1124.4,138.5 L1124.4,154.5 L1120.1,154.5 Z M1126.0,138.5 L1130.3,138.5 L1130.3,154.5 L1126.0,154.5 Z M1131.9,138.5 L1136.2,138.5 L1136.2,154.5 L1131.9,154.5 Z M1137.8,138.5 L1142.1,138.5 L1142.1,154.5 L1137.8,154.5 Z" fill="#fff" stroke="#333" stroke-width="0.8"/>
<path d="M1089,128.5 L1089,135 M1096,131.5 L1110,118.5 M1126,118.5 L1140,133 M1091,137 L1144,138" fill="none" stroke="#333" stroke-width="0.8"/>
<path d="M1101.1,97 L1129.9,97 L1129.9,114 L1127,116.5 L1101.1,116.5 Z" fill="#fff" stroke="#333" stroke-width="0.9"/>
<path d="M1126.5,97 L1126.5,116.5 M1101.1,100.5 L1126.5,100.5" stroke="#333" stroke-width="0.8"/>
<path d="M1103.0,97 L1104.2,94.2 M1106.1,97 L1107.3,94.2 M1109.2,97 L1110.4,94.2 M1112.3,97 L1113.5,94.2 M1115.4,97 L1116.6,94.2 M1118.5,97 L1119.7,94.2 M1121.6,97 L1122.8,94.2 M1124.7,97 L1125.9,94.2" stroke="#333" stroke-width="0.7"/>
<path d="M1112,117 Q1112,123 1115.5,123 Q1119,123 1119,117 M1114,119 Q1114,121 1115.5,121 Q1117,121 1117,119" fill="none" stroke="#333" stroke-width="0.8"/>
<path d="M1112.5,127 L1115.5,124.5 L1118.5,127" fill="none" stroke="#333" stroke-width="0.8"/>
<path d="M1106,130.5 L1125,131.5 M1108,134.5 L1122,135.2" stroke="#222" stroke-width="1.2"/>
<path d="M1092,124.5 Q1095,121.5 1098,124.5 L1096.5,127 L1093,127 Z" fill="#fff" stroke="#333" stroke-width="0.7"/>
<path d="M1084.8,89 L1084.8,126.7 M1081,88.6 L1110,93.4 M1101.1,91.5 L1101.1,97 M1128.1,94.8 L1152,98.3 M1150.4,96.5 L1150.4,129 M1129.5,94.5 L1129.5,97" fill="none" stroke="#555" stroke-width="0.6"/>
<text x="1089.9" y="113.4" font-size="9.4" fill="#333">IN</text>
<text x="1131.8" y="108.7" font-size="9.4" fill="#333">OUT</text>
<path d="M373.2,342.9 L466.4,354.1 L465.3,377.1 L370,364.3 L369.5,349 Z" fill="#fff" stroke="#333" stroke-width="1.1" stroke-linejoin="round"/>
<path d="M369.5,349 L463,360.5 L466.4,354.1 M463,360.5 L462,376.8" fill="none" stroke="#333" stroke-width="0.9"/>
<path d="M380,345.5 L440,352.5" stroke="#222" stroke-width="1.6" stroke-dasharray="4 1.5"/>
<path d="M372.5,351.8 l6.2,0.8 l0,8.4 l-6.2,-0.8 Z M381.6,352.9 l6.2,0.8 l0,8.4 l-6.2,-0.8 Z M390.6,354.0 l6.2,0.8 l0,8.4 l-6.2,-0.8 Z M399.6,355.1 l6.2,0.8 l0,8.4 l-6.2,-0.8 Z M408.7,356.2 l6.2,0.8 l0,8.4 l-6.2,-0.8 Z M417.8,357.3 l6.2,0.8 l0,8.4 l-6.2,-0.8 Z M426.8,358.4 l6.2,0.8 l0,8.4 l-6.2,-0.8 Z M435.9,359.5 l6.2,0.8 l0,8.4 l-6.2,-0.8 Z M444.9,360.6 l6.2,0.8 l0,8.4 l-6.2,-0.8 Z M453.9,361.7 l6.2,0.8 l0,8.4 l-6.2,-0.8 Z" fill="#fff" stroke="#333" stroke-width="0.8"/>
<ellipse cx="464.3" cy="366" rx="1.4" ry="3.5" fill="none" stroke="#333" stroke-width="0.7"/>
<text x="431.9" y="346.3" font-size="9.3" fill="#333" textLength="48.4" lengthAdjust="spacingAndGlyphs">OUT (glass)</text>
<text x="359.8" y="369.8" font-size="10.5" fill="#333">IN</text>
<path d="M370.5,392.5 L372.0,392.5 L372.0,390.5 L375.0,390.5 L375.0,392.5 L380.6,392.5 L380.6,390.5 L383.6,390.5 L383.6,392.5 L389.2,392.5 L389.2,390.5 L392.2,390.5 L392.2,392.5 L397.8,392.5 L397.8,390.5 L400.8,390.5 L400.8,392.5 L406.4,392.5 L406.4,390.5 L409.4,390.5 L409.4,392.5 L415.0,392.5 L415.0,390.5 L418.0,390.5 L418.0,392.5 L423.6,392.5 L423.6,390.5 L426.6,390.5 L426.6,392.5 L432.2,392.5 L432.2,390.5 L435.2,390.5 L435.2,392.5 L440.8,392.5 L440.8,390.5 L443.8,390.5 L443.8,392.5 L449.4,392.5 L449.4,390.5 L452.4,390.5 L452.4,392.5 L458.0,392.5 L458.0,390.5 L461.0,390.5 L461.0,392.5 L467.4,392.5 L467.4,403.5 L461.0,403.5 L461.0,405.5 L458.0,405.5 L458.0,403.5 L452.4,403.5 L452.4,405.5 L449.4,405.5 L449.4,403.5 L443.8,403.5 L443.8,405.5 L440.8,405.5 L440.8,403.5 L435.2,403.5 L435.2,405.5 L432.2,405.5 L432.2,403.5 L426.6,403.5 L426.6,405.5 L423.6,405.5 L423.6,403.5 L418.0,403.5 L418.0,405.5 L415.0,405.5 L415.0,403.5 L409.4,403.5 L409.4,405.5 L406.4,405.5 L406.4,403.5 L400.8,403.5 L400.8,405.5 L397.8,405.5 L397.8,403.5 L392.2,403.5 L392.2,405.5 L389.2,405.5 L389.2,403.5 L383.6,403.5 L383.6,405.5 L380.6,405.5 L380.6,403.5 L375.0,403.5 L375.0,405.5 L372.0,405.5 L372.0,403.5 L370.5,403.5 Z" fill="#fff" stroke="#333" stroke-width="0.9"/>
<text x="388.2" y="399.8" font-size="6.8" font-weight="bold" fill="#222" textLength="33.7" lengthAdjust="spacingAndGlyphs">glass side ⊕</text>
<text x="427.8" y="397.2" font-size="3.4" font-weight="bold" fill="#222" textLength="28" lengthAdjust="spacingAndGlyphs">FLEX1 - 14,76mm</text>
<text x="427.8" y="401.2" font-size="3.4" font-weight="bold" fill="#222" textLength="28" lengthAdjust="spacingAndGlyphs">FLEX2 - 20,76mm</text>
<path d="M374.8,401 L374.8,395 M373.4,396.5 L374.8,394.5 L376.2,396.5 M463.2,401 L463.2,395 M461.8,396.5 L463.2,394.5 L464.6,396.5" fill="none" stroke="#333" stroke-width="0.6"/>
<text x="431.9" y="387.6" font-size="9.3" fill="#333" textLength="48.4" lengthAdjust="spacingAndGlyphs">OUT (glass)</text>
<text x="359.8" y="409.3" font-size="10.5" fill="#333">IN</text>
<path d="M498.7,363.3 L503,363.3 L503,366 M526,363.3 L530.7,363.3 L530.7,432.4 L498.7,432.4 Z" fill="#fff" stroke="#333" stroke-width="0.8"/>
<path d="M498.7,363.3 L498.7,432.4" stroke="#333" stroke-width="0.8"/>
<rect x="500.5" y="366" width="3.5" height="12" rx="1.7" fill="#fff" stroke="#333" stroke-width="0.6"/>
<rect x="500.5" y="381" width="3.5" height="17" rx="1.7" fill="#fff" stroke="#333" stroke-width="0.6"/>
<rect x="500.5" y="401" width="3.5" height="17" rx="1.7" fill="#fff" stroke="#333" stroke-width="0.6"/>
<rect x="500.5" y="420" width="3.5" height="10" rx="1.7" fill="#fff" stroke="#333" stroke-width="0.6"/>
<rect x="525.5" y="366" width="3.5" height="12" rx="1.7" fill="#fff" stroke="#333" stroke-width="0.6"/>
<rect x="525.5" y="381" width="3.5" height="17" rx="1.7" fill="#fff" stroke="#333" stroke-width="0.6"/>
<rect x="525.5" y="401" width="3.5" height="17" rx="1.7" fill="#fff" stroke="#333" stroke-width="0.6"/>
<rect x="525.5" y="420" width="3.5" height="10" rx="1.7" fill="#fff" stroke="#333" stroke-width="0.6"/>
<path d="M506,385 L507.5,418 L522,418 L523.5,385" fill="none" stroke="#333" stroke-width="0.7"/>
<path d="M506,372 L509.5,372 L509.5,419 L506.5,419 Z M520,372 L524,372 L523.5,419 L520.3,419 Z" fill="#fff" stroke="#333" stroke-width="0.6"/>
<path d="M510.2,338.3 L519.2,342.2 L519.2,418.9 L510.2,418.9 Z" fill="#fff" stroke="#111" stroke-width="1.1"/>
<path d="M505,421 L525,421 L525,428 L505,428 Z" fill="#fff" stroke="#333" stroke-width="0.6"/>
<circle cx="505.7" cy="346" r="3.3" fill="#1f5f94" stroke="#0e2c48" stroke-width="0.8"/><circle cx="505.7" cy="346" r="1.2" fill="#fff"/>
<circle cx="505.7" cy="371" r="3.3" fill="#1f5f94" stroke="#0e2c48" stroke-width="0.8"/><circle cx="505.7" cy="371" r="1.2" fill="#fff"/>
<line x1="506.4" y1="352" x2="506.4" y2="359.4" stroke="#3a8fd0" stroke-width="1.2"/><path d="M504.19,358.1 L506.4,362 L508.60999999999996,358.1 Z" fill="#3a8fd0"/>
<path d="M511,357 L515,359 L511,361 Z" fill="#3a8fd0"/>
<ellipse cx="491.6" cy="355" rx="9.5" ry="7" fill="#fff" stroke="#9cc8ec" stroke-width="0.8" stroke-dasharray="1.5 1"/>
<text x="491.6" y="357.5" font-size="6.5" font-weight="bold" fill="#8fbfe6" text-anchor="middle">click</text>
<rect x="339.3" y="415" width="15.4" height="12.6" fill="#fff" stroke="#777" stroke-width="0.9"/><text x="347.0" y="425.2" font-size="13.5" fill="#111" text-anchor="middle">4</text>
<rect x="384" y="418.4" width="15.4" height="13.4" fill="#fff" stroke="#777" stroke-width="0.9"/><text x="391.7" y="429.3" font-size="13.5" fill="#111" text-anchor="middle">4</text>
<rect x="434.3" y="422.8" width="15.4" height="14.0" fill="#fff" stroke="#777" stroke-width="0.9"/><text x="442.0" y="434.1" font-size="13.5" fill="#111" text-anchor="middle">4</text>
<path d="M357.4,430.3 L374.5,432.1 L374.5,435.6 L357.4,433.8 Z" fill="#17283a"/>
<path d="M399,435.6 L415.7,437.40000000000003 L415.7,440.6 L399,438.8 Z" fill="#17283a"/>
<path d="M448.2,441.6 L465.6,443.40000000000003 L465.6,447.4 L448.2,445.59999999999997 Z" fill="#17283a"/>
<line x1="366.9" y1="443.9" x2="366.9" y2="456.90000000000003" stroke="#3a8fd0" stroke-width="1.3"/><path d="M364.17999999999995,455.3 L366.9,460.1 L369.62,455.3 Z" fill="#3a8fd0"/>
<line x1="408.9" y1="447.4" x2="408.9" y2="460.40000000000003" stroke="#3a8fd0" stroke-width="1.3"/><path d="M406.17999999999995,458.8 L408.9,463.6 L411.62,458.8 Z" fill="#3a8fd0"/>
<line x1="457.3" y1="453.8" x2="457.3" y2="466.90000000000003" stroke="#3a8fd0" stroke-width="1.3"/><path d="M454.58,465.3 L457.3,470.1 L460.02000000000004,465.3 Z" fill="#3a8fd0"/>
<g transform="translate(368.5,489.5) scale(1.06)"><path d="M0,4.3 L3.9,4.3 L3.9,7.6 L20,9.1 L20,7.3 L26.4,7.2 L26.4,15.4 L0,12.5 Z" fill="#111"/><path d="M4.90,8.30 l1.6,0.15 l0,4.2 l-1.6,-0.15 Z M7.95,8.58 l1.6,0.15 l0,4.2 l-1.6,-0.15 Z M11.00,8.86 l1.6,0.15 l0,4.2 l-1.6,-0.15 Z M14.05,9.14 l1.6,0.15 l0,4.2 l-1.6,-0.15 Z M17.10,9.42 l1.6,0.15 l0,4.2 l-1.6,-0.15 Z" fill="#fff"/><rect x="1" y="5.6" width="1.9" height="5" fill="#fff"/><path d="M21.4,9.6 L25.2,9.6 L25.2,13.8 L21.4,13.4 Z" fill="#ccc"/><path d="M3.9,4.3 L9.8,0.6 L13.6,0.3 L19.8,4.6 M13.6,0.3 L12.8,6" fill="none" stroke="#222" stroke-width="0.7"/><path d="M8.8,3.6 Q11.2,5.4 12.6,7.4 Q14,5.4 16.6,3.8" fill="none" stroke="#111" stroke-width="1.5"/></g>
<g transform="translate(418,495.3) scale(1.06)"><path d="M0,4.3 L3.9,4.3 L3.9,7.6 L20,9.1 L20,7.3 L26.4,7.2 L26.4,15.4 L0,12.5 Z" fill="#111"/><path d="M4.90,8.30 l1.6,0.15 l0,4.2 l-1.6,-0.15 Z M7.95,8.58 l1.6,0.15 l0,4.2 l-1.6,-0.15 Z M11.00,8.86 l1.6,0.15 l0,4.2 l-1.6,-0.15 Z M14.05,9.14 l1.6,0.15 l0,4.2 l-1.6,-0.15 Z M17.10,9.42 l1.6,0.15 l0,4.2 l-1.6,-0.15 Z" fill="#fff"/><rect x="1" y="5.6" width="1.9" height="5" fill="#fff"/><path d="M21.4,9.6 L25.2,9.6 L25.2,13.8 L21.4,13.4 Z" fill="#ccc"/><path d="M3.9,4.3 L9.8,0.6 L13.6,0.3 L19.8,4.6 M13.6,0.3 L12.8,6" fill="none" stroke="#222" stroke-width="0.7"/><path d="M8.8,3.6 Q11.2,5.4 12.6,7.4 Q14,5.4 16.6,3.8" fill="none" stroke="#111" stroke-width="1.5"/></g>
<g transform="translate(467.8,500.9) scale(1.06)"><path d="M0,4.3 L3.9,4.3 L3.9,7.6 L20,9.1 L20,7.3 L26.4,7.2 L26.4,15.4 L0,12.5 Z" fill="#111"/><path d="M4.90,8.30 l1.6,0.15 l0,4.2 l-1.6,-0.15 Z M7.95,8.58 l1.6,0.15 l0,4.2 l-1.6,-0.15 Z M11.00,8.86 l1.6,0.15 l0,4.2 l-1.6,-0.15 Z M14.05,9.14 l1.6,0.15 l0,4.2 l-1.6,-0.15 Z M17.10,9.42 l1.6,0.15 l0,4.2 l-1.6,-0.15 Z" fill="#fff"/><rect x="1" y="5.6" width="1.9" height="5" fill="#fff"/><path d="M21.4,9.6 L25.2,9.6 L25.2,13.8 L21.4,13.4 Z" fill="#ccc"/><path d="M3.9,4.3 L9.8,0.6 L13.6,0.3 L19.8,4.6 M13.6,0.3 L12.8,6" fill="none" stroke="#222" stroke-width="0.7"/><path d="M8.8,3.6 Q11.2,5.4 12.6,7.4 Q14,5.4 16.6,3.8" fill="none" stroke="#111" stroke-width="1.5"/></g>
<g transform="translate(517.6,506.5) scale(1.06)"><path d="M0,4.3 L3.9,4.3 L3.9,7.6 L20,9.1 L20,7.3 L26.4,7.2 L26.4,15.4 L0,12.5 Z" fill="#111"/><path d="M4.90,8.30 l1.6,0.15 l0,4.2 l-1.6,-0.15 Z M7.95,8.58 l1.6,0.15 l0,4.2 l-1.6,-0.15 Z M11.00,8.86 l1.6,0.15 l0,4.2 l-1.6,-0.15 Z M14.05,9.14 l1.6,0.15 l0,4.2 l-1.6,-0.15 Z M17.10,9.42 l1.6,0.15 l0,4.2 l-1.6,-0.15 Z" fill="#fff"/><rect x="1" y="5.6" width="1.9" height="5" fill="#fff"/><path d="M21.4,9.6 L25.2,9.6 L25.2,13.8 L21.4,13.4 Z" fill="#ccc"/><path d="M3.9,4.3 L9.8,0.6 L13.6,0.3 L19.8,4.6 M13.6,0.3 L12.8,6" fill="none" stroke="#222" stroke-width="0.7"/><path d="M8.8,3.6 Q11.2,5.4 12.6,7.4 Q14,5.4 16.6,3.8" fill="none" stroke="#111" stroke-width="1.5"/></g>
<path d="M497.9,498.6 L514.7,500.6 L514.7,503.8 L497.9,501.8 Z" fill="#111"/>
<path d="M540,502.8 L556.3,504.8 L556.3,507.5 L540,505.6 Z" fill="#111"/>
<path d="M540,502.8 L556.3,496.3 L556.3,503 Z" fill="#9cc2b6"/>
<path d="M531.4,501.4 Q545,497 553.8,488.9" fill="none" stroke="#333" stroke-width="0.7"/>
<path d="M555.5,485.5 L566,475.8 Q569.5,473.5 571,476.5 Q571.5,478.5 569.5,480.5 L559.5,490 Z" fill="#1a1a1a"/>
<path d="M559,484.5 L567.5,476.8 M561,486.6 L569.3,478.8" stroke="#eee" stroke-width="0.7" stroke-dasharray="1.6 1.2"/>
<path d="M551.5,488 L555.5,484.5 L559.5,488.8 L555.5,492.3 Z" fill="#fff" stroke="#222" stroke-width="0.8"/>
<ellipse cx="553.3" cy="490.2" rx="2.2" ry="2.4" transform="rotate(-45 553.3 490.2)" fill="#fff" stroke="#222" stroke-width="0.9"/>
<path d="M546,495 A8,8 0 0 1 554,480.5" fill="none" stroke="#3a8fd0" stroke-width="1.3"/>
<path d="M552.5,478 L557.5,480.5 L552.5,483 Z" fill="#3a8fd0"/>
<path d="M561,490 A8,8 0 0 1 553,497.5" fill="none" stroke="#3a8fd0" stroke-width="1.3"/>
<rect x="697.1" y="354.3" width="82.4" height="36.1" fill="#fff" stroke="#666" stroke-width="0.9"/>
<text x="700.2" y="366.5" font-size="12.5" font-weight="bold" fill="#aaa" stroke="#444" stroke-width="0.7">IN</text>
<text x="754.3" y="366.5" font-size="12.5" font-weight="bold" fill="#aaa" textLength="22.1" lengthAdjust="spacingAndGlyphs" stroke="#444" stroke-width="0.7">OUT</text>
<text x="700.2" y="373.90000000000003" font-size="7" font-weight="bold" fill="#111">+1,1°</text>
<text x="758.4" y="373.90000000000003" font-size="7" font-weight="bold" fill="#111">-0,5°</text>
<rect x="732.1" y="361.1" width="2.1" height="26" fill="#aaa" stroke="#444" stroke-width="0.5"/>
<path d="M729.4,375.3 L729.4,387.1 L737.6,387.1 L737.6,375.3" fill="none" stroke="#444" stroke-width="1"/>
<path d="M722,364.8 Q724,361.8 728,361.3 M738,361.3 Q742,361.8 744,364.8" fill="none" stroke="#222" stroke-width="1.2"/>
<text x="687" y="376.8" font-size="15.5" font-weight="bold" fill="#111" text-anchor="middle">A</text>
<text x="788.5" y="376.8" font-size="15.5" font-weight="bold" fill="#111" text-anchor="middle">B</text>
<rect x="697.1" y="394.1" width="82.4" height="35.7" fill="#fff" stroke="#666" stroke-width="0.9"/>
<text x="700.2" y="406.3" font-size="12.5" font-weight="bold" fill="#aaa" stroke="#444" stroke-width="0.7">IN</text>
<text x="754.3" y="406.3" font-size="12.5" font-weight="bold" fill="#aaa" textLength="22.1" lengthAdjust="spacingAndGlyphs" stroke="#444" stroke-width="0.7">OUT</text>
<text x="700.2" y="413.70000000000005" font-size="7" font-weight="bold" fill="#111">+0,5°</text>
<text x="758.4" y="413.70000000000005" font-size="7" font-weight="bold" fill="#111">-1,1</text>
<rect x="732.1" y="400.90000000000003" width="2.1" height="26" fill="#aaa" stroke="#444" stroke-width="0.5"/>
<path d="M729.4,415.1 L729.4,426.90000000000003 L737.6,426.90000000000003 L737.6,415.1" fill="none" stroke="#444" stroke-width="1"/>
<path d="M722,404.6 Q724,401.6 728,401.1 M738,401.1 Q742,401.6 744,404.6" fill="none" stroke="#222" stroke-width="1.2"/>
<text x="687" y="416.6" font-size="15.5" font-weight="bold" fill="#111" text-anchor="middle">B</text>
<text x="788.5" y="416.6" font-size="15.5" font-weight="bold" fill="#111" text-anchor="middle">A</text>
<path d="M826.3,368.6 L836.4,368.6 L836.4,407.5 L840.6,414.3 L840.6,446.4 L830.5,446.4 L830.5,419 L826.3,412 Z" fill="#fff" stroke="#222" stroke-width="0.9"/>
<path d="M826.3,407.5 L836.4,407.5 M830.5,414.3 L840.6,414.3 M830.5,430 L840.6,430" stroke="#222" stroke-width="0.7"/>
<circle cx="827.9" cy="361" r="7" fill="#333" stroke="#111" stroke-width="0.8"/>
<circle cx="827.9" cy="361" r="4.2" fill="#fff" stroke="#111" stroke-width="0.8"/>
<circle cx="827.9" cy="361" r="1.8" fill="#333"/>
<path d="M806.8,461 L812,457 L816,459.5 L832,447 L841,447 L858,459 L863,458 L868.5,460 L868.5,478 L864,481.8 L807.5,476 Z" fill="#fff" stroke="#222" stroke-width="0.9" stroke-linejoin="round"/>
<path d="M819.0,466.0 l3.8,0.3 l0,12 l-3.8,-0.3 Z M824.3,466.4 l3.8,0.3 l0,12 l-3.8,-0.3 Z M829.6,466.9 l3.8,0.3 l0,12 l-3.8,-0.3 Z M834.9,467.4 l3.8,0.3 l0,12 l-3.8,-0.3 Z M840.2,467.8 l3.8,0.3 l0,12 l-3.8,-0.3 Z M845.5,468.2 l3.8,0.3 l0,12 l-3.8,-0.3 Z M850.8,468.7 l3.8,0.3 l0,12 l-3.8,-0.3 Z M856.1,469.1 l3.8,0.3 l0,12 l-3.8,-0.3 Z" fill="#fff" stroke="#222" stroke-width="0.8"/>
<path d="M809,463 L809,475 M866,462 L866,479 M820,458 L833,450 M852,458 L840,450 M826,461 L846,462.5" fill="none" stroke="#222" stroke-width="0.8"/>
<path d="M827,457 L844,458.5" stroke="#111" stroke-width="1.6"/>
<circle cx="835" cy="452" r="1.6" fill="#fff" stroke="#222" stroke-width="0.7"/>
<path d="M818,384.5 Q832.5,372 847,384.5" fill="none" stroke="#3a8fd0" stroke-width="1.6"/>
<path d="M814.5,386.5 L816,380.5 L820.5,384 Z M850.5,386.5 L849,380.5 L844.5,384 Z" fill="#3a8fd0"/>
<text x="802.6" y="378.8" font-size="8" font-weight="bold" fill="#4a9ad6">+x°</text>
<text x="849.9" y="378.8" font-size="8" font-weight="bold" fill="#4a9ad6">-x°</text>
<text x="859.6" y="447.4" font-size="11.3" fill="#222" textLength="24.5" lengthAdjust="spacingAndGlyphs">OUT</text>
<circle cx="783.6" cy="443" r="3.6" fill="#333" stroke="#111" stroke-width="0.6"/><circle cx="783.6" cy="443" r="1.4" fill="#fff"/>
<path d="M782.3,446 L785.3,446 L785.3,466 L787,468 L787,484 L784,486 L781.5,484 L781.5,468 L782.3,466 Z" fill="#fff" stroke="#222" stroke-width="0.8"/>
<path d="M781.5,476 L787,476" stroke="#222" stroke-width="0.6"/>
<path d="M778.5,489.5 Q784,484 790,489.5 Q784,492.5 778.5,489.5 Z" fill="#fff" stroke="#222" stroke-width="0.9"/>
<line x1="786" y1="493.5" x2="786" y2="511.49999999999994" stroke="#3a8fd0" stroke-width="1.2"/><path d="M783.62,510.09999999999997 L786,514.3 L788.38,510.09999999999997 Z" fill="#3a8fd0"/>
<text x="757.6" y="479.6" font-size="12.5" fill="#333" textLength="11.8" lengthAdjust="spacingAndGlyphs">IN</text>
<line x1="951.8" y1="430.6" x2="1150.1" y2="455.4" stroke="#1f5580" stroke-width="3.5" stroke-linecap="round"/><line x1="952.3" y1="430.70000000000005" x2="1149.6" y2="455.29999999999995" stroke="#3a8bc9" stroke-width="2.17"/>
<rect x="1147.7" y="430.3" width="16.7" height="14.3" fill="#fff" stroke="#666" stroke-width="0.9"/><text x="1156.1" y="441.9" font-size="13.5" fill="#111" text-anchor="middle">5</text>
<path d="M949.4,463.8 L1072.4,479.3 L1088,494.8" fill="none" stroke="#1b4a72" stroke-width="3.5" stroke-linejoin="round" stroke-linecap="round"/>
<path d="M950,463.9 L1072.4,479.3 L1087.5,494.3" fill="none" stroke="#3485c4" stroke-width="1.9" stroke-linejoin="round"/>
<line x1="1045.8" y1="446.1" x2="1045.8" y2="465.7" stroke="#3a8fd0" stroke-width="1.3"/><path d="M1043.08,464.09999999999997 L1045.8,468.9 L1048.52,464.09999999999997 Z" fill="#3a8fd0"/>
<path d="M930.6,476.2 L936,474.6 L936,502.3 L930.6,504.7 Z" fill="#2f86c6" stroke="#143a5a" stroke-width="0.9" stroke-linejoin="round"/>
<path d="M1178.7,505.7 L1183.9,504.4 L1183.9,532 L1178.7,534.5 Z" fill="#2f86c6" stroke="#143a5a" stroke-width="0.9" stroke-linejoin="round"/>
<path d="M1088,492.5 L1127,474.5 L1128.8,478 L1090,496.5 Z" fill="#fff" stroke="#222" stroke-width="0.8"/>
<path d="M1103,485.5 L1105,489.5 M1107,483.5 L1109,487.5 M1117,479 L1119,483" stroke="#222" stroke-width="0.7"/>
<ellipse cx="1129.5" cy="476.5" rx="2.3" ry="4" transform="rotate(-25 1129.5 476.5)" fill="#fff" stroke="#111" stroke-width="1.2"/>
<circle cx="1088.5" cy="494.5" r="2.6" fill="#222"/>
<path d="M1090,498 L1150,503.5" stroke="#555" stroke-width="0.6"/>
<path d="M299.4,650.7 L303.6,650.7 L305.5,693.1 L318.1,693.1 L319.5,650.7 L323.7,650.7 L323.7,700.1 L299.4,700.1 Z" fill="#e2e2e2" stroke="#2a2a2a" stroke-width="1"/>
<path d="M300.6,654.0 L302.9,661.6 L300.6,669.2 L303.6,676.8 L300.6,684.4 L304.3,692.0 M302.6,654.0 L300.6,661.6 L303.3,669.2 L300.6,676.8 L304.0,684.4 L300.6,692.0" fill="none" stroke="#333" stroke-width="0.75"/>
<path d="M320.6,654.0 L322.6,661.6 L320.1,669.2 L322.6,676.8 L319.6,684.4 L322.6,692.0 M322.6,654.0 L320.3,661.6 L322.6,669.2 L319.8,676.8 L322.6,684.4 L319.3,692.0" fill="none" stroke="#333" stroke-width="0.75"/>
<path d="M305.5,693.1 L318.1,693.1 L318.1,699 L305.5,699 Z" fill="#fff" stroke="#2a2a2a" stroke-width="0.8"/>
<path d="M300,652 L303,652 M320.5,652 L323,652" stroke="#111" stroke-width="1.6"/>
<path d="M294.5,700.1 L328.5,700.1 Q330,701 329.7,703 L329,705.5 Q312,704.5 294.5,706.6 L293.6,703 Q293.6,700.5 294.5,700.1 Z" fill="#fff" stroke="#2a2a2a" stroke-width="1"/>
<path d="M308,694.5 L315,694.5 L311.5,697.5 Z" fill="#222"/>
<path d="M299.1,741.1 L304.6,741.1 L305.5,782.7 L321,782.7 L321.7,741.1 L325.9,741.1 L325.3,832.8 L324.1,829.7 L299.1,789.4 Z" fill="#e2e2e2" stroke="#2a2a2a" stroke-width="1"/>
<path d="M300.3,744.0 L303.8,751.4 L300.3,758.8 L303.8,766.2 L300.3,773.6 L303.8,781.0 M303.8,744.0 L300.3,751.4 L303.8,758.8 L300.3,766.2 L303.8,773.6 L300.3,781.0" fill="none" stroke="#333" stroke-width="0.75"/>
<path d="M322.5,744.0 L325.0,751.4 L322.5,758.8 L325.0,766.2 L322.5,773.6 L325.0,781.0 M325.0,744.0 L322.5,751.4 L325.0,758.8 L322.5,766.2 L325.0,773.6 L322.5,781.0" fill="none" stroke="#333" stroke-width="0.75"/>
<path d="M301,788.6 L307,783.5 L313,788.6 L319,783.5 L324.5,788.6 M301,783.5 L307,788.6 L313,783.5 L319,788.6 L324.5,783.5" fill="none" stroke="#333" stroke-width="0.75"/>
<path d="M305.8,791.2 L322.3,791.2 L322.3,812.6 L318.5,812.6 Z" fill="#fff" stroke="#2a2a2a" stroke-width="0.9"/>
<path d="M314,815.5 L322.3,815.5 L322.3,827.5 Z" fill="#fff" stroke="#2a2a2a" stroke-width="0.9"/>
<path d="M299.1,782.7 L325.5,782.7 M299.1,789.4 L325.5,789.4" fill="none" stroke="#2a2a2a" stroke-width="0.9"/>
<path d="M325.3,783.3 L331.4,783.3 Q333,800 334.5,832.8" fill="none" stroke="#2a2a2a" stroke-width="0.9"/>
<path d="M300,742.5 L304,742.5 M322,742.5 L325.5,742.5" stroke="#111" stroke-width="1.5"/>
<path d="M751.1,653 L757.4,653 L758,690.3 L772.7,690.3 L772.7,653 L778.8,653 L778.8,690.3 L805,690.3 Q809.5,692 809.5,696 L809.5,699.1 L751.1,699.1 Z" fill="#e2e2e2" stroke="#2a2a2a" stroke-width="1"/>
<path d="M752.3,656.0 L756.2,662.6 L752.3,669.2 L756.2,675.8 L752.3,682.4 L756.2,689.0 M756.2,656.0 L752.3,662.6 L756.2,669.2 L752.3,675.8 L756.2,682.4 L752.3,689.0" fill="none" stroke="#333" stroke-width="0.75"/>
<path d="M774.0,656.0 L777.6,662.6 L774.0,669.2 L777.6,675.8 L774.0,682.4 L777.6,689.0 M777.6,656.0 L774.0,662.6 L777.6,669.2 L774.0,675.8 L777.6,682.4 L774.0,689.0" fill="none" stroke="#333" stroke-width="0.75"/>
<path d="M753,698 L759,692 L765,698 L771,692 L777,698 M753,692 L759,698 L765,692 L771,698 L777,692" fill="none" stroke="#333" stroke-width="0.75"/>
<path d="M780.5,692 L787,692 L787,697.8 L780.5,697.8 Z M789,692 L803,692 Q807.5,693 807.5,696 L807.5,697.8 L789,697.8 Z" fill="#fff" stroke="#2a2a2a" stroke-width="0.9"/>
<path d="M745.7,699.6 L815.6,699.6 Q814,706 806,708 Q796,709 783,705 Q768,700 756,706 Q748,708 745.7,699.6 Z" fill="#fff" stroke="#2a2a2a" stroke-width="1"/>
<path d="M752,654.5 L756,654.5 M774,654.5 L778,654.5 M790,697 L806,697" stroke="#111" stroke-width="1.5"/>
<path d="M764.3,759.8 L769,759.8 L770.9,802.1 L785.3,802.1 L787.2,759.8 L791.8,759.8 L792.7,802.1 L800.7,808 L800.7,811.5 L754.1,811.5 L754.1,808 L763,802.1 Z" fill="#e2e2e2" stroke="#2a2a2a" stroke-width="1"/>
<path d="M765.4,763.0 L768.3,769.3 L765.0,775.7 L768.9,782.0 L764.7,788.3 L769.5,794.7 L764.3,801.0 M768.0,763.0 L765.2,769.3 L768.6,775.7 L764.8,782.0 L769.2,788.3 L764.5,794.7 L769.8,801.0" fill="none" stroke="#333" stroke-width="0.75"/>
<path d="M788.3,763.0 L790.9,769.3 L787.7,775.7 L791.2,782.0 L787.1,788.3 L791.6,794.7 L786.5,801.0 M790.8,763.0 L788.0,769.3 L791.1,775.7 L787.4,782.0 L791.4,788.3 L786.8,794.7 L791.7,801.0" fill="none" stroke="#333" stroke-width="0.75"/>
<path d="M757,810 L762.5,805 L764.5,805 L764.5,810 Z M792,810 L792,805 L794,805 L799.5,810 Z M766.5,804 L769.5,804 L769.5,810 L766.5,810 Z M787,804 L790,804 L790,810 L787,810 Z M771.5,804 L785,804 L785,810 L771.5,810 Z" fill="#fff" stroke="#2a2a2a" stroke-width="0.8"/>
<path d="M749,811.9 L808.1,811.9 Q806,820 798,821 Q790,822 780,818 Q770,815 760,820 Q752,822 749,811.9 Z" fill="#fff" stroke="#2a2a2a" stroke-width="1"/>
<path d="M765,761 L768.5,761 M788,761 L791.5,761" stroke="#111" stroke-width="1.5"/>
</svg>
</body></html>
